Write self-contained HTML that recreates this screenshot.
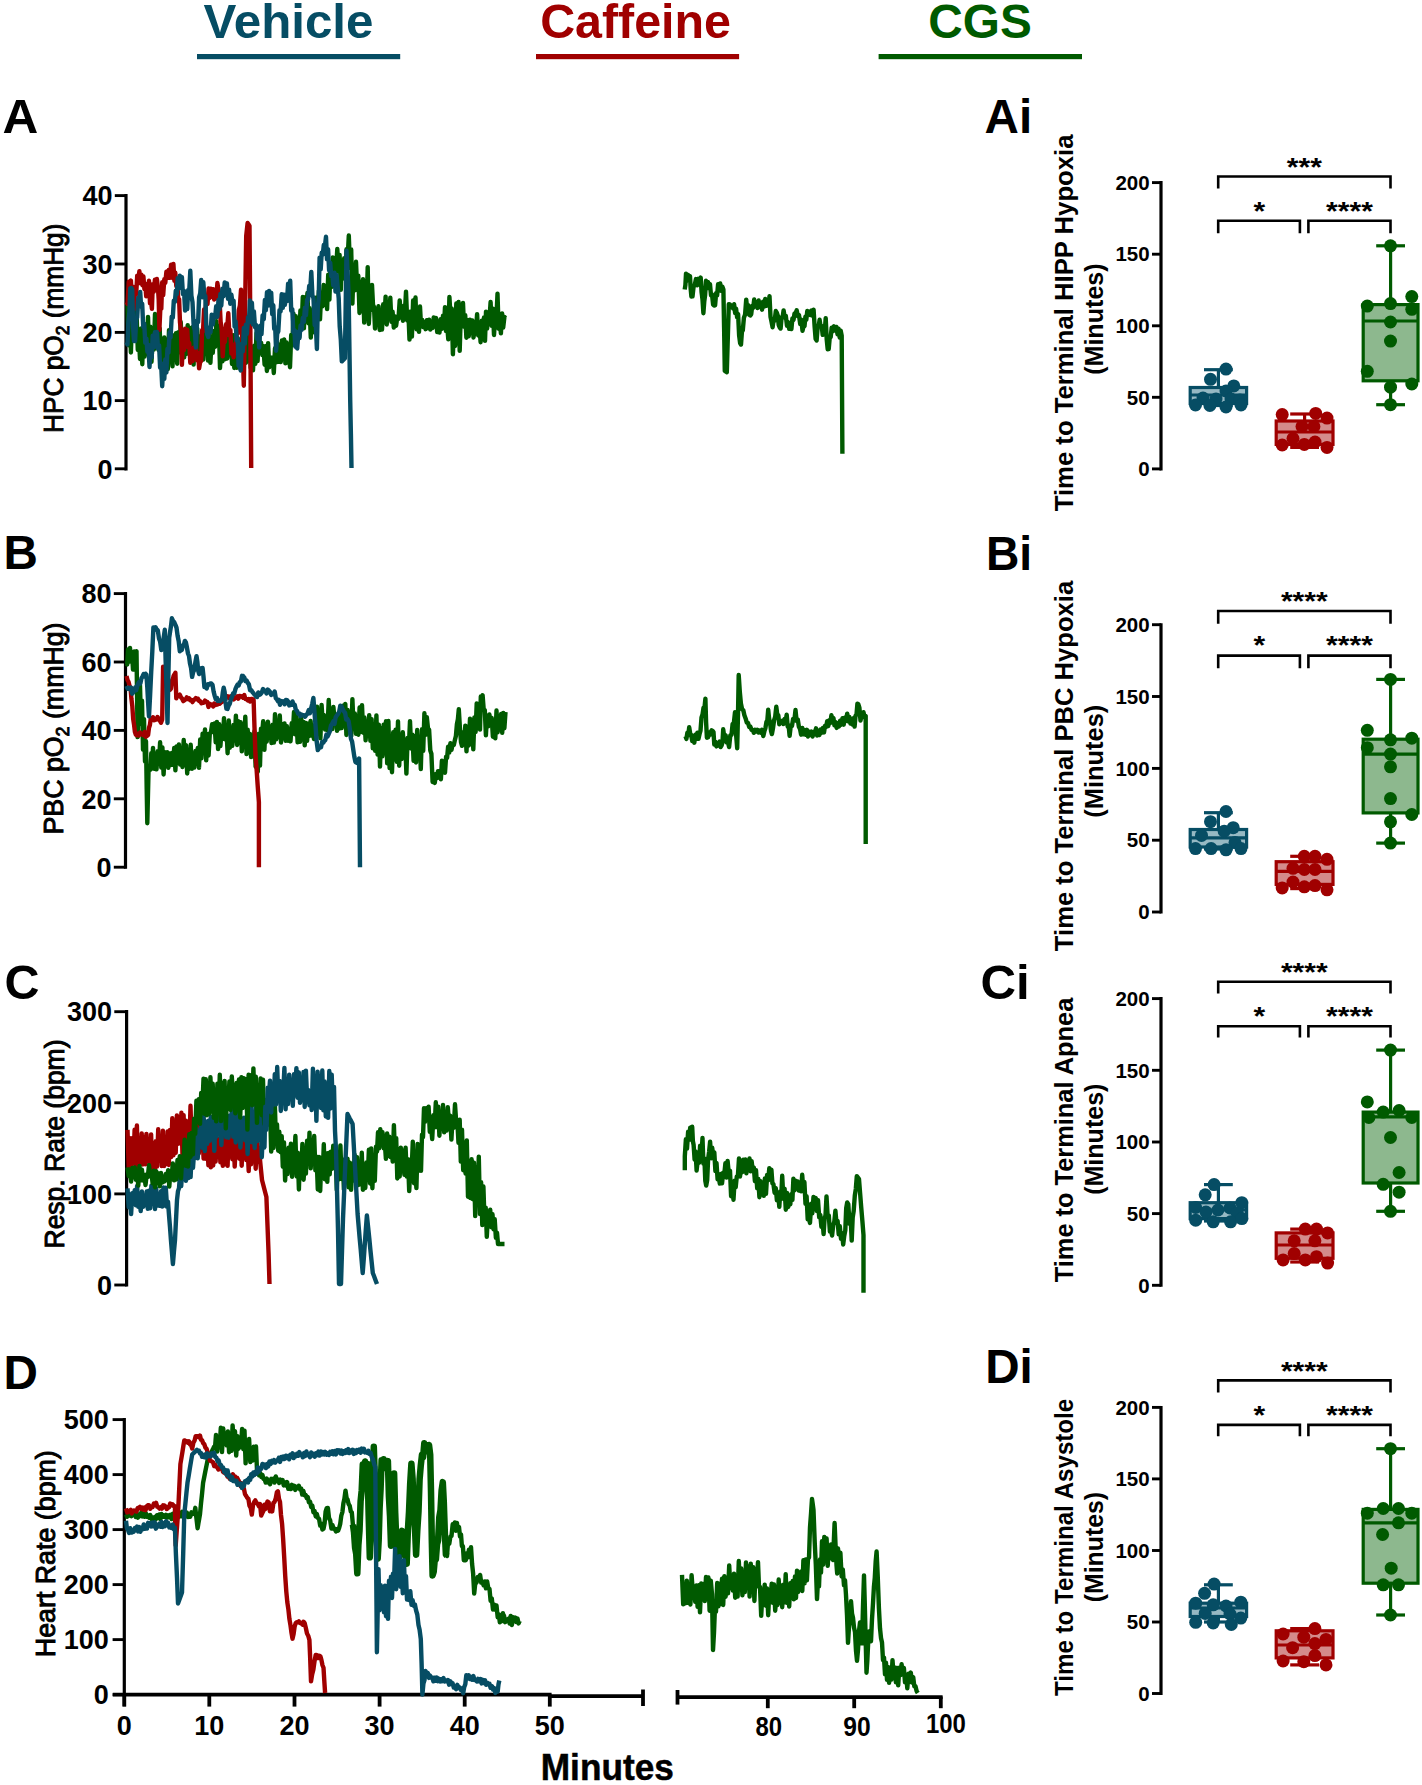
<!DOCTYPE html>
<html><head><meta charset="utf-8"><title>Figure</title>
<style>html,body{margin:0;padding:0;background:#fff;}svg{display:block;}</style></head>
<body><svg width="1422" height="1785" viewBox="0 0 1422 1785" font-family="&quot;Liberation Sans&quot;, sans-serif" fill="#000">
<rect width="1422" height="1785" fill="#fff"/>
<text x="203.6" y="37.6" font-size="48" font-weight="bold" fill="#064d64" textLength="169.79999999999998" lengthAdjust="spacingAndGlyphs">Vehicle</text>
<rect x="197" y="54" width="203.2" height="5.2" fill="#064d64"/>
<text x="540.2" y="37.6" font-size="48" font-weight="bold" fill="#a00000" textLength="190.79999999999995" lengthAdjust="spacingAndGlyphs">Caffeine</text>
<rect x="536" y="54" width="203.10000000000002" height="5.2" fill="#a00000"/>
<text x="928.2" y="37.6" font-size="48" font-weight="bold" fill="#005a00" textLength="103.59999999999991" lengthAdjust="spacingAndGlyphs">CGS</text>
<rect x="878.6" y="54" width="203.39999999999998" height="5.2" fill="#005a00"/>
<text x="2.6" y="133.2" font-size="48" font-weight="bold" fill="#000" textLength="35.8" lengthAdjust="spacingAndGlyphs">A</text>
<text x="3.6" y="569.4" font-size="48" font-weight="bold" fill="#000" textLength="34.4" lengthAdjust="spacingAndGlyphs">B</text>
<text x="4.6" y="999.0" font-size="48" font-weight="bold" fill="#000" textLength="35.0" lengthAdjust="spacingAndGlyphs">C</text>
<text x="3.6" y="1389.3" font-size="48" font-weight="bold" fill="#000" textLength="34.4" lengthAdjust="spacingAndGlyphs">D</text>
<text x="984.6" y="132.9" font-size="48" font-weight="bold" fill="#000" textLength="47.6" lengthAdjust="spacingAndGlyphs">Ai</text>
<text x="986.0" y="569.7" font-size="48" font-weight="bold" fill="#000" textLength="46.2" lengthAdjust="spacingAndGlyphs">Bi</text>
<text x="980.6" y="999.3" font-size="48" font-weight="bold" fill="#000" textLength="49.2" lengthAdjust="spacingAndGlyphs">Ci</text>
<text x="985.2" y="1382.9" font-size="48" font-weight="bold" fill="#000" textLength="47.6" lengthAdjust="spacingAndGlyphs">Di</text>
<line x1="126.0" y1="194.0" x2="126.0" y2="470.40000000000003" stroke="#000" stroke-width="3.2"/>
<line x1="114.8" y1="195.6" x2="126.0" y2="195.6" stroke="#000" stroke-width="2.8800000000000003"/>
<text x="112.5" y="205.3" font-size="27" font-weight="bold" text-anchor="end">40</text>
<line x1="114.8" y1="264.0" x2="126.0" y2="264.0" stroke="#000" stroke-width="2.8800000000000003"/>
<text x="112.5" y="273.7" font-size="27" font-weight="bold" text-anchor="end">30</text>
<line x1="114.8" y1="332.4" x2="126.0" y2="332.4" stroke="#000" stroke-width="2.8800000000000003"/>
<text x="112.5" y="342.1" font-size="27" font-weight="bold" text-anchor="end">20</text>
<line x1="114.8" y1="400.6" x2="126.0" y2="400.6" stroke="#000" stroke-width="2.8800000000000003"/>
<text x="112.5" y="410.3" font-size="27" font-weight="bold" text-anchor="end">10</text>
<line x1="114.8" y1="468.8" x2="126.0" y2="468.8" stroke="#000" stroke-width="2.8800000000000003"/>
<text x="112.5" y="478.5" font-size="27" font-weight="bold" text-anchor="end">0</text>
<line x1="125.5" y1="592.0" x2="125.5" y2="868.8000000000001" stroke="#000" stroke-width="3.2"/>
<line x1="113.8" y1="593.6" x2="125.5" y2="593.6" stroke="#000" stroke-width="2.8800000000000003"/>
<text x="111.5" y="603.3" font-size="27" font-weight="bold" text-anchor="end">80</text>
<line x1="113.8" y1="662.0" x2="125.5" y2="662.0" stroke="#000" stroke-width="2.8800000000000003"/>
<text x="111.5" y="671.7" font-size="27" font-weight="bold" text-anchor="end">60</text>
<line x1="113.8" y1="730.4" x2="125.5" y2="730.4" stroke="#000" stroke-width="2.8800000000000003"/>
<text x="111.5" y="740.1" font-size="27" font-weight="bold" text-anchor="end">40</text>
<line x1="113.8" y1="798.8" x2="125.5" y2="798.8" stroke="#000" stroke-width="2.8800000000000003"/>
<text x="111.5" y="808.5" font-size="27" font-weight="bold" text-anchor="end">20</text>
<line x1="113.8" y1="867.2" x2="125.5" y2="867.2" stroke="#000" stroke-width="2.8800000000000003"/>
<text x="111.5" y="876.9" font-size="27" font-weight="bold" text-anchor="end">0</text>
<line x1="126.6" y1="1010.1" x2="126.6" y2="1286.6" stroke="#000" stroke-width="3.2"/>
<line x1="114.3" y1="1011.7" x2="126.6" y2="1011.7" stroke="#000" stroke-width="2.8800000000000003"/>
<text x="112.0" y="1021.4" font-size="27" font-weight="bold" text-anchor="end">300</text>
<line x1="114.3" y1="1102.8" x2="126.6" y2="1102.8" stroke="#000" stroke-width="2.8800000000000003"/>
<text x="112.0" y="1112.5" font-size="27" font-weight="bold" text-anchor="end">200</text>
<line x1="114.3" y1="1193.9" x2="126.6" y2="1193.9" stroke="#000" stroke-width="2.8800000000000003"/>
<text x="112.0" y="1203.6" font-size="27" font-weight="bold" text-anchor="end">100</text>
<line x1="114.3" y1="1285.0" x2="126.6" y2="1285.0" stroke="#000" stroke-width="2.8800000000000003"/>
<text x="112.0" y="1294.7" font-size="27" font-weight="bold" text-anchor="end">0</text>
<line x1="124.3" y1="1418.0" x2="124.3" y2="1706.3" stroke="#000" stroke-width="3.2"/>
<line x1="112.6" y1="1419.6" x2="124.3" y2="1419.6" stroke="#000" stroke-width="2.8800000000000003"/>
<text x="108.8" y="1429.3" font-size="27" font-weight="bold" text-anchor="end">500</text>
<line x1="112.6" y1="1474.6" x2="124.3" y2="1474.6" stroke="#000" stroke-width="2.8800000000000003"/>
<text x="108.8" y="1484.3" font-size="27" font-weight="bold" text-anchor="end">400</text>
<line x1="112.6" y1="1529.6" x2="124.3" y2="1529.6" stroke="#000" stroke-width="2.8800000000000003"/>
<text x="108.8" y="1539.3" font-size="27" font-weight="bold" text-anchor="end">300</text>
<line x1="112.6" y1="1584.6" x2="124.3" y2="1584.6" stroke="#000" stroke-width="2.8800000000000003"/>
<text x="108.8" y="1594.3" font-size="27" font-weight="bold" text-anchor="end">200</text>
<line x1="112.6" y1="1639.6" x2="124.3" y2="1639.6" stroke="#000" stroke-width="2.8800000000000003"/>
<text x="108.8" y="1649.3" font-size="27" font-weight="bold" text-anchor="end">100</text>
<line x1="112.6" y1="1694.7" x2="124.3" y2="1694.7" stroke="#000" stroke-width="2.8800000000000003"/>
<text x="108.8" y="1704.4" font-size="27" font-weight="bold" text-anchor="end">0</text>
<text transform="translate(62.6,328.3) rotate(-90)" x="0" y="0" font-size="27" stroke="#000" stroke-width="0.95" text-anchor="middle" textLength="209.5" lengthAdjust="spacingAndGlyphs">HPC pO<tspan font-size="18" dy="6">2</tspan><tspan dy="-6"> (mmHg)</tspan></text>
<text transform="translate(63.4,728.5) rotate(-90)" x="0" y="0" font-size="27" stroke="#000" stroke-width="0.95" text-anchor="middle" textLength="212" lengthAdjust="spacingAndGlyphs">PBC pO<tspan font-size="18" dy="6">2</tspan><tspan dy="-6"> (mmHg)</tspan></text>
<text transform="translate(63.8,1144.0) rotate(-90)" x="0" y="0" font-size="27" stroke="#000" stroke-width="0.95" text-anchor="middle" textLength="209" lengthAdjust="spacingAndGlyphs">Resp. Rate (bpm)</text>
<text transform="translate(55.3,1553.7) rotate(-90)" x="0" y="0" font-size="27" stroke="#000" stroke-width="0.95" text-anchor="middle" textLength="207" lengthAdjust="spacingAndGlyphs">Heart Rate (bpm)</text>
<line x1="112.8" y1="1694.7" x2="551.6" y2="1694.7" stroke="#000" stroke-width="3.8"/>
<line x1="548" y1="1696.1000000000001" x2="643" y2="1696.1000000000001" stroke="#000" stroke-width="3.8"/>
<line x1="677.5" y1="1697.2" x2="942.6" y2="1697.2" stroke="#000" stroke-width="3.8"/>
<line x1="124.3" y1="1694.7" x2="124.3" y2="1706.6" stroke="#000" stroke-width="3.8"/>
<text x="124.3" y="1735.2" font-size="27" font-weight="bold" text-anchor="middle">0</text>
<line x1="209.3" y1="1694.7" x2="209.3" y2="1706.6" stroke="#000" stroke-width="3.8"/>
<text x="209.3" y="1735.2" font-size="27" font-weight="bold" text-anchor="middle">10</text>
<line x1="294.5" y1="1694.7" x2="294.5" y2="1706.6" stroke="#000" stroke-width="3.8"/>
<text x="294.5" y="1735.2" font-size="27" font-weight="bold" text-anchor="middle">20</text>
<line x1="379.6" y1="1694.7" x2="379.6" y2="1706.6" stroke="#000" stroke-width="3.8"/>
<text x="379.6" y="1735.2" font-size="27" font-weight="bold" text-anchor="middle">30</text>
<line x1="464.7" y1="1694.7" x2="464.7" y2="1706.6" stroke="#000" stroke-width="3.8"/>
<text x="464.7" y="1735.2" font-size="27" font-weight="bold" text-anchor="middle">40</text>
<line x1="549.8" y1="1694.7" x2="549.8" y2="1706.6" stroke="#000" stroke-width="3.8"/>
<text x="549.8" y="1735.2" font-size="27" font-weight="bold" text-anchor="middle">50</text>
<line x1="643" y1="1689.5" x2="643" y2="1706.0" stroke="#000" stroke-width="3.8"/>
<line x1="677.5" y1="1690.0" x2="677.5" y2="1704.6" stroke="#000" stroke-width="3.8"/>
<line x1="767.8" y1="1696.5" x2="767.8" y2="1708.2" stroke="#000" stroke-width="3.8"/>
<text x="755.4" y="1736.2" font-size="27" font-weight="bold" textLength="26.6" lengthAdjust="spacingAndGlyphs">80</text>
<line x1="854.2" y1="1696.5" x2="854.2" y2="1708.2" stroke="#000" stroke-width="3.8"/>
<text x="843.1999999999999" y="1735.5" font-size="27" font-weight="bold" textLength="27.4" lengthAdjust="spacingAndGlyphs">90</text>
<line x1="940.8" y1="1696.5" x2="940.8" y2="1708.2" stroke="#000" stroke-width="3.8"/>
<text x="925.9" y="1733.0" font-size="27" font-weight="bold" textLength="40.0" lengthAdjust="spacingAndGlyphs">100</text>
<text x="540.8" y="1780.0" font-size="36.5" font-weight="bold" stroke="#000" stroke-width="0.5" textLength="133.0" lengthAdjust="spacingAndGlyphs">Minutes</text>
<polyline points="127.5,302.9 128.6,345.3 129.8,321.1 130.9,352.5 132.1,316.2 133.2,330.2 134.3,302.9 135.5,334.8 136.6,314.4 137.8,350.0 138.9,337.3 140.0,359.0 141.2,328.4 142.3,364.3 143.4,327.4 144.6,356.6 145.7,341.8 146.9,354.0 148.0,316.9 149.2,355.9 150.3,326.6 151.5,361.9 152.7,335.7 153.8,349.6 155.0,314.0 156.2,344.1 157.3,321.4 158.5,350.0 159.7,328.4 160.8,363.8 162.0,339.7 163.2,371.6 164.3,337.4 165.5,368.0 166.7,345.3 167.8,369.1 169.0,330.1 170.2,361.4 171.3,344.2 172.5,366.4 173.7,335.5 174.8,353.8 176.0,333.1 177.2,363.7 178.3,332.2 179.5,352.3 180.7,321.9 181.8,342.1 183.0,337.5 184.2,357.4 185.3,341.7 186.5,353.9 187.7,325.2 188.8,347.3 190.0,328.2 191.2,352.3 192.4,327.1 193.6,364.6 194.8,326.2 196.0,352.1 197.2,328.4 198.4,353.0 199.6,336.5 200.8,358.3 202.0,340.0 203.2,359.6 204.4,321.4 205.6,342.5 206.8,336.4 208.0,360.6 209.2,331.7 210.4,362.8 211.6,339.5 212.8,352.9 214.0,330.9 215.2,346.7 216.4,321.2 217.6,340.9 218.8,326.0 220.0,368.1 221.2,348.6 222.4,361.4 223.6,339.1 224.8,359.3 226.0,329.3 227.2,358.5 228.4,333.3 229.6,351.7 230.8,335.8 232.0,364.0 233.2,335.1 234.3,368.0 235.5,342.2 236.7,367.9 237.8,338.2 239.0,362.5 240.2,340.8 241.3,368.9 242.5,338.8 243.7,366.8 244.8,338.7 246.0,362.7 247.2,332.3 248.3,347.4 249.5,343.1 250.7,367.8 251.8,349.2 253.0,370.3 254.2,345.7 255.3,363.9 256.5,333.0 257.6,361.1 258.8,332.2 259.9,348.6 261.1,342.7 262.3,355.1 263.4,346.2 264.6,364.7 265.7,346.1 266.9,371.0 268.1,343.2 269.2,367.3 270.4,357.5 271.5,365.5 272.7,357.5 273.8,373.0 275.0,348.3 276.2,362.4 277.3,342.9 278.5,361.8 279.6,352.2 280.8,362.0 281.9,340.4 283.1,348.4 284.2,339.5 285.4,363.4 286.5,342.5 287.7,362.5 288.8,349.3 290.0,367.2 291.2,335.0 292.3,344.8 293.5,313.7 294.7,335.6 295.8,316.3 297.0,343.0 298.1,323.9 299.3,337.1 300.4,310.5 301.6,327.2 302.8,296.9 303.9,328.4 305.1,297.3 306.2,314.3 307.4,293.0 308.5,323.3 309.6,308.3 310.8,337.6 311.9,311.4 313.1,332.3 314.2,304.4 315.4,319.8 316.6,297.5 317.7,311.9 318.9,290.7 320.0,319.4 321.2,293.0 322.4,306.4 323.6,285.0 324.8,304.9 326.0,286.0 327.1,309.1 328.2,274.8 329.4,299.6 330.5,266.5 331.6,287.0 332.8,257.5 333.9,285.9 335.0,265.1 336.2,268.8 337.3,248.9 338.5,271.5 339.6,254.9 340.8,289.8 341.9,260.6 343.1,272.5 344.2,258.2 345.4,279.3 346.5,249.3 347.7,257.5 348.8,235.5 350.0,268.2 351.2,249.5 352.4,303.6 353.6,268.3 354.8,290.4 356.0,261.8 357.2,289.5 358.3,275.8 359.5,313.0 360.7,282.2 361.8,308.4 363.0,279.3 364.2,322.6 365.3,305.8 366.5,310.2 367.7,267.1 368.8,324.0 370.0,301.3 371.0,310.0 372.0,284.9 373.0,304.8 374.0,307.0 375.0,328.5 376.2,309.4 377.3,316.3 378.5,306.2 379.7,330.0 380.9,312.4 382.0,329.6 383.2,304.3 384.4,318.5 385.6,296.6 386.7,324.5 387.9,304.7 389.1,318.5 390.3,297.7 391.4,321.8 392.6,311.8 393.8,327.5 395.0,316.5 396.1,325.8 397.3,317.4 398.5,318.8 399.7,300.4 400.8,314.8 402.0,308.7 403.0,320.7 404.0,305.7 405.0,310.4 406.0,291.6 407.2,320.5 408.4,313.3 409.5,339.6 410.7,311.5 411.9,336.6 413.1,300.5 414.3,326.2 415.5,297.5 416.6,329.4 417.8,312.8 419.0,331.9 420.0,306.5 421.0,325.3 422.2,319.9 423.3,327.1 424.5,322.1 425.6,329.2 426.8,320.2 427.9,328.1 429.1,319.7 430.3,329.6 431.4,325.0 432.6,327.9 433.7,317.4 434.9,321.1 436.1,318.1 437.2,332.1 438.4,321.7 439.5,332.6 440.7,319.2 441.8,328.9 443.0,315.6 444.0,326.2 445.0,307.2 446.0,331.1 447.1,324.5 448.3,339.4 449.4,297.0 450.6,316.5 451.7,308.4 452.9,354.3 454.0,325.6 455.1,346.0 456.3,303.5 457.4,319.1 458.6,302.0 459.7,350.9 460.9,310.8 462.0,321.6 463.0,303.0 464.0,326.7 465.2,315.1 466.4,337.7 467.6,320.2 468.8,336.2 469.9,319.8 471.1,332.3 472.3,320.4 473.5,337.5 474.7,328.6 475.9,331.7 477.1,314.2 478.2,335.5 479.4,325.1 480.6,342.2 481.8,320.7 483.0,333.0 484.0,317.4 485.0,340.8 486.0,311.6 487.1,328.5 488.3,313.6 489.4,320.2 490.6,302.0 491.7,325.9 492.9,308.6 494.0,335.0 495.2,316.9 496.3,321.0 497.5,293.6 498.6,328.8 499.8,320.8 500.9,333.3 502.1,313.4 503.2,327.5 504.4,316.9 505.5,318.0" fill="none" stroke="#005a00" stroke-width="4.4" stroke-linejoin="round" stroke-linecap="butt"/>
<polyline points="126.5,301.9 127.6,303.9 128.7,281.8 129.8,284.4 130.9,280.5 131.9,297.9 132.9,286.8 134.0,309.4 135.1,288.9 136.2,294.3 137.2,275.7 138.3,280.8 139.4,271.1 140.4,283.4 141.4,274.7 142.5,285.2 143.4,276.5 144.4,289.0 145.3,283.7 146.2,296.3 147.2,284.8 148.1,289.0 149.0,280.8 150.0,303.4 150.9,300.2 151.9,308.8 152.8,284.1 153.8,291.7 154.9,279.8 155.9,285.8 156.9,278.9 158.0,288.4 158.7,299.9 159.4,329.8 160.3,309.1 161.3,308.6 162.2,282.3 163.2,295.0 164.3,279.3 165.3,282.9 166.4,271.6 167.6,277.8 168.7,270.0 169.9,277.9 171.1,264.6 172.2,277.7 173.4,263.9 174.4,280.8 175.3,272.8 176.3,286.1 177.2,280.5 178.2,298.6 179.1,299.1 180.0,322.6 181.0,331.0 181.9,364.9 182.9,342.1 184.0,350.1 185.1,328.8 186.1,332.5 187.2,329.7 188.2,347.3 189.2,343.0 190.3,362.9 191.4,350.6 192.5,361.1 193.7,347.7 194.8,357.7 195.9,346.6 197.0,360.2 198.1,352.9 199.1,368.4 200.2,362.0 201.1,361.2 202.1,330.1 203.0,331.3 204.1,309.4 205.2,312.9 206.4,298.9 207.5,304.1 208.6,288.5 209.7,298.0 210.8,288.6 212.0,296.8 213.1,289.3 214.2,299.5 215.3,291.5 216.3,298.3 217.4,283.0 218.5,290.0 219.6,301.1 220.6,321.5 221.6,328.4 222.7,356.4 223.8,339.5 224.9,341.9 226.1,324.3 227.2,327.9 228.3,313.2 229.4,335.5 230.4,329.9 231.4,353.6 232.5,347.9 233.6,357.2 234.6,344.5 235.6,349.9 236.7,332.9 237.8,333.5 238.8,310.2 239.9,305.6 241.0,289.8 241.9,328.8 242.9,354.8 243.8,385.8 244.5,342.9 245.2,300.0 246.2,236.0 246.9,229.5 247.6,223.0 248.6,224.5 249.5,226.0 250.3,320.0 251.2,468.0" fill="none" stroke="#a00000" stroke-width="4.4" stroke-linejoin="round" stroke-linecap="butt"/>
<polyline points="126.5,342.2 127.5,344.5 128.4,321.7 129.4,311.8 130.3,288.4 131.3,288.0 132.2,289.2 133.1,327.0 134.0,341.1 135.1,341.1 136.2,318.5 137.2,317.4 138.3,297.6 139.2,306.7 140.2,291.9 141.1,306.4 142.2,303.8 143.2,326.9 144.2,323.5 145.3,342.9 146.4,338.7 147.4,351.8 148.4,344.7 149.5,367.0 150.6,350.1 151.7,357.4 152.7,335.6 153.8,347.4 154.9,332.3 155.9,346.2 156.9,331.9 158.0,348.7 159.1,345.3 160.1,367.7 161.1,363.2 162.2,386.2 163.2,366.7 164.3,378.9 165.3,359.5 166.4,372.5 167.4,349.0 168.5,352.7 169.6,332.4 170.6,337.5 171.7,316.6 172.8,317.6 173.8,300.6 174.9,301.9 175.8,290.6 176.8,294.1 177.7,278.2 178.8,288.2 179.8,275.8 180.8,287.9 181.9,277.1 182.9,294.0 184.0,290.9 185.1,310.6 186.1,300.3 187.2,309.1 188.2,289.9 189.2,291.4 190.3,270.8 191.4,295.5 192.5,302.1 193.7,326.2 194.8,330.3 195.9,347.6 197.0,320.7 198.1,322.1 199.1,297.3 200.2,293.3 201.2,280.0 202.3,297.4 203.3,282.2 204.4,296.8 205.3,295.8 206.3,326.6 207.2,334.2 208.3,337.1 209.4,327.6 210.6,332.2 211.7,314.7 212.8,324.6 213.9,314.9 215.1,317.3 216.2,306.1 217.4,316.7 218.5,299.9 219.4,309.1 220.4,293.9 221.3,305.6 222.4,288.8 223.5,296.3 224.7,282.4 225.8,292.2 226.9,283.4 228.0,298.8 229.1,289.8 230.3,303.8 231.4,294.7 232.5,302.8 233.6,300.6 234.6,326.6 235.6,321.4 236.7,340.5 237.7,338.7 238.6,365.6 239.6,366.8 240.7,370.4 241.7,343.9 242.8,351.3 243.8,328.0 244.9,343.6 245.9,324.7 246.9,333.8 248.0,317.1 248.9,322.3 249.9,300.5 250.8,312.9 251.9,302.8 252.9,324.5 253.9,311.4 255.0,327.2 256.1,325.0 257.1,338.8 258.1,329.5 259.2,347.5 260.3,325.6 261.5,334.0 262.6,315.4 263.8,319.1 264.9,300.0 265.9,310.2 267.0,292.2 268.1,305.5 269.1,291.0 270.2,300.9 271.2,292.6 272.2,314.2 273.3,305.3 274.2,329.0 275.2,327.3 276.1,350.7 277.2,333.7 278.3,331.4 279.5,310.1 280.6,311.3 281.7,294.3 282.8,307.9 283.8,294.7 284.9,304.7 285.9,294.7 287.0,301.2 288.1,283.7 289.1,291.8 290.2,280.8 291.2,310.7 292.3,309.3 293.3,332.1 294.4,330.2 295.3,346.7 296.3,331.7 297.2,348.5 298.3,333.1 299.4,338.2 300.6,325.4 301.7,329.8 302.8,317.9 303.9,321.9 304.9,307.7 306.0,315.0 307.1,299.8 308.1,299.3 309.2,285.9 310.2,290.6 311.3,271.9 312.4,295.4 313.5,298.3 314.7,325.1 315.8,324.7 316.9,349.0 317.8,307.3 318.7,298.2 319.6,257.6 320.7,269.3 321.7,252.8 322.8,254.6 323.8,245.0 324.9,246.3 326.0,236.8 327.0,259.4 328.1,249.3 329.1,270.4 330.2,262.7 331.2,276.1 332.3,273.6 333.3,285.3 334.4,272.6 335.5,291.5 336.5,274.9 337.6,286.2 338.7,298.3 339.7,326.3 340.8,339.6 341.8,361.4 342.8,360.3 343.9,359.3 344.9,358.2 345.7,304.4 346.5,250.6 347.6,272.2 348.6,293.8 349.4,346.9 350.2,400.0 350.9,434.0 351.5,468.0" fill="none" stroke="#064d64" stroke-width="4.4" stroke-linejoin="round" stroke-linecap="butt"/>
<polyline points="684.7,289.5 685.4,285.0 686.0,273.6 687.0,280.2 688.0,275.0 689.0,280.7 690.0,276.2 690.7,289.1 691.4,296.5 692.5,296.4 693.6,286.6 694.7,285.1 695.9,279.1 697.1,285.3 698.3,278.8 699.5,282.9 700.7,277.6 701.6,292.3 702.5,299.6 703.4,313.2 704.3,301.2 705.1,295.1 706.0,280.8 707.0,284.2 708.0,282.0 709.0,288.2 710.0,284.2 711.0,295.4 712.0,294.3 713.1,304.5 714.1,305.6 715.1,305.4 716.1,293.2 717.1,295.5 718.1,284.1 719.2,287.9 720.2,283.5 721.3,290.8 722.3,286.6 723.4,289.6 724.1,327.6 724.8,370.9 725.8,371.5 726.8,372.2 727.8,338.1 728.8,304.1 729.9,304.3 730.9,307.1 732.0,306.2 733.0,308.4 734.1,304.2 735.1,313.0 736.1,308.7 737.1,317.2 738.1,314.2 739.1,335.1 740.1,343.0 741.0,344.5 741.9,332.0 742.8,330.3 743.9,317.8 745.1,314.5 746.2,299.6 747.2,308.8 748.2,305.1 749.2,314.8 750.2,315.5 751.2,314.3 752.2,305.9 753.2,307.8 754.2,299.5 755.3,306.0 756.4,302.3 757.5,308.0 758.7,300.5 759.8,306.9 760.9,303.7 762.0,309.7 763.0,301.7 764.1,306.7 765.2,299.0 766.3,305.8 767.4,302.0 768.4,305.5 769.5,296.2 770.5,316.7 771.5,321.6 772.6,327.3 773.7,319.4 774.7,320.6 775.8,311.0 776.9,312.9 777.8,315.6 778.7,325.0 779.6,327.3 780.6,328.5 781.6,317.3 782.6,317.4 783.6,310.4 784.7,317.2 785.8,315.7 787.0,325.8 788.1,322.2 789.2,328.8 790.3,325.2 791.4,329.1 792.4,318.4 793.5,320.0 794.5,313.5 795.6,313.0 796.7,310.4 797.9,316.3 799.0,315.1 800.2,324.0 801.3,319.6 802.5,330.7 803.6,325.8 804.5,326.2 805.4,316.8 806.3,319.7 807.3,311.0 808.4,314.5 809.4,311.8 810.5,315.1 811.5,310.6 812.6,315.7 813.6,309.7 814.6,326.3 815.6,338.8 816.6,340.5 817.6,327.5 818.6,326.6 819.6,319.8 820.6,326.8 821.7,326.0 822.7,334.9 823.7,332.1 824.7,331.7 825.7,318.1 826.7,339.3 827.7,349.2 828.7,349.1 829.7,338.1 830.7,337.0 831.7,327.6 832.9,331.2 834.0,326.3 835.2,330.3 836.4,326.9 837.5,334.3 838.6,328.7 839.7,337.5 840.7,330.7 841.7,335.6 842.4,453.7" fill="none" stroke="#005a00" stroke-width="4.4" stroke-linejoin="round" stroke-linecap="butt"/>
<polyline points="126.5,663.8 127.2,664.5 128.0,649.5 129.0,661.5 130.0,648.0 131.0,661.7 132.0,652.9 133.0,669.5 134.2,651.4 135.3,663.9 136.5,651.1 137.6,737.1 138.3,711.0 139.0,708.6 140.0,685.3 141.0,724.4 142.0,700.8 143.0,749.7 144.0,719.1 145.0,761.4 146.0,741.2 146.7,789.1 147.3,823.3 148.5,772.0 149.5,766.4 150.5,769.6 151.3,753.2 152.2,762.6 153.0,747.9 154.2,768.9 155.4,760.1 156.5,769.4 157.7,751.3 158.9,763.8 160.1,742.3 161.3,767.6 162.4,747.4 163.6,774.5 164.8,752.2 166.0,765.3 167.2,752.2 168.3,767.9 169.5,753.4 170.7,765.0 171.9,752.9 173.1,764.8 174.2,748.0 175.4,770.4 176.6,746.4 177.8,758.4 178.9,744.4 180.1,764.5 181.3,753.6 182.5,767.0 183.7,740.0 184.8,754.5 186.0,745.1 187.2,773.5 188.4,750.0 189.6,768.7 190.7,744.8 191.9,768.7 193.1,756.7 194.3,767.6 195.5,751.0 196.6,762.2 197.8,747.9 199.0,767.9 200.2,739.4 201.4,758.4 202.6,733.7 203.8,746.6 205.0,729.4 206.2,760.4 207.4,734.1 208.6,755.5 209.8,733.3 210.9,732.6 212.1,724.3 213.3,731.8 214.5,723.5 215.7,742.4 216.9,721.9 218.1,749.1 219.2,724.3 220.4,746.1 221.6,730.0 222.8,738.8 224.0,718.1 225.2,739.5 226.4,728.0 227.6,753.2 228.8,720.5 229.9,747.7 231.1,730.7 232.3,745.9 233.5,724.9 234.7,740.6 235.9,715.6 237.1,745.0 238.2,721.1 239.4,740.8 240.6,722.1 241.8,751.3 243.0,724.1 244.2,743.4 245.3,716.7 246.5,754.1 247.7,729.8 248.8,752.5 250.0,734.0 251.1,757.1 252.2,741.6 253.3,756.4 254.4,731.3 255.6,766.7 256.7,745.7 257.8,771.6 258.9,733.6 260.0,765.6 261.0,728.6 262.0,734.8 263.2,721.2 264.4,749.8 265.6,724.8 266.7,741.6 267.9,721.6 269.1,731.5 270.3,726.7 271.5,743.0 272.7,724.6 273.9,742.6 275.0,714.1 276.2,739.3 277.4,724.5 278.6,737.0 279.8,715.5 281.0,742.5 282.2,724.2 283.3,735.7 284.5,723.4 285.7,740.9 286.9,726.3 288.1,740.7 289.3,734.2 290.5,741.3 291.7,723.3 292.8,733.5 294.0,711.9 295.2,734.4 296.4,716.1 297.6,742.4 298.8,723.1 300.0,741.8 301.1,715.8 302.3,739.4 303.5,721.9 304.7,745.4 305.9,722.9 307.1,740.9 308.3,723.6 309.4,735.8 310.6,721.0 311.8,735.6 313.0,733.6 314.0,739.0 315.0,724.9 316.0,722.9 317.0,706.6 318.0,727.8 319.2,720.6 320.4,738.3 321.6,704.9 322.7,723.2 323.9,715.0 325.1,729.6 326.3,720.6 327.5,730.3 328.7,700.0 329.9,727.1 331.0,721.2 332.2,729.1 333.4,706.9 334.6,720.9 335.8,714.3 337.0,730.8 338.1,717.0 339.3,728.6 340.5,709.0 341.7,728.1 342.9,705.8 344.1,715.1 345.3,703.9 346.4,735.0 347.6,710.0 348.8,724.1 350.0,719.3 351.2,736.3 352.4,699.1 353.6,727.6 354.8,713.5 356.0,733.8 357.2,716.7 358.4,734.7 359.6,707.5 360.8,731.7 362.0,705.2 363.2,732.7 364.4,717.5 365.6,740.4 366.8,721.8 368.0,736.0 369.2,715.1 370.4,740.9 371.6,719.1 372.8,748.4 374.0,726.1 375.2,750.8 376.4,715.4 377.6,754.6 378.8,724.6 380.0,766.6 381.2,728.2 382.4,756.4 383.6,724.8 384.8,753.3 386.0,721.1 387.2,763.4 388.4,721.0 389.6,768.1 390.8,747.6 392.0,772.2 393.2,732.2 394.4,744.0 395.6,729.7 396.8,761.7 398.0,721.4 399.2,765.7 400.4,734.8 401.6,759.1 402.8,732.2 404.0,749.2 405.2,741.9 406.4,773.6 407.6,737.9 408.8,748.2 410.0,721.1 411.2,748.6 412.4,734.7 413.6,760.8 414.8,736.1 416.0,762.5 417.2,730.0 418.4,757.8 419.6,739.0 420.8,769.1 422.0,729.2 423.2,750.9 424.4,713.3 425.6,734.8 426.8,717.1 428.0,728.6 429.1,729.6 430.3,750.5 431.4,753.8 432.6,782.0 433.7,781.4 434.8,782.8 435.9,773.9 437.0,778.2 438.0,771.1 438.9,776.9 439.9,771.3 440.9,779.2 441.9,760.6 442.9,769.2 444.0,761.1 445.0,772.7 446.1,756.7 447.1,757.8 448.1,746.7 449.2,752.7 450.4,743.3 451.5,749.8 452.7,743.9 453.8,745.0 455.0,739.6 455.9,736.0 456.9,724.2 457.9,719.3 458.8,709.1 459.9,727.6 461.0,742.2 462.0,745.8 463.0,732.1 464.2,743.7 465.3,725.7 466.5,751.3 467.7,726.4 468.8,745.5 470.0,718.7 471.1,732.1 472.2,720.1 473.3,749.3 474.4,717.4 475.6,732.0 476.7,703.4 477.8,728.3 478.9,717.1 480.0,729.6 480.8,696.5 481.5,697.9 482.6,695.2 483.7,709.5 484.8,710.2 485.9,735.4 487.0,715.4 488.2,726.4 489.4,714.5 490.5,722.9 491.7,717.8 492.9,736.7 494.1,720.7 495.3,738.3 496.5,710.5 497.6,732.2 498.8,719.0 500.0,728.6 501.1,713.9 502.2,732.9 503.3,712.9 504.4,728.2 505.5,712.0" fill="none" stroke="#005a00" stroke-width="4.4" stroke-linejoin="round" stroke-linecap="butt"/>
<polyline points="126.5,676.0 127.5,680.0 128.5,681.8 129.5,685.8 130.5,687.4 131.4,698.6 132.3,705.9 133.2,719.2 134.1,725.0 134.9,731.9 135.8,734.7 136.9,735.4 137.9,733.9 139.0,735.3 140.0,732.5 141.1,734.3 142.3,734.1 143.4,735.2 144.6,731.9 145.8,736.8 146.9,735.9 148.1,735.0 149.0,727.7 149.9,725.0 150.8,718.3 151.9,719.2 153.0,717.2 154.1,720.3 155.2,719.6 156.4,719.5 157.5,717.0 158.7,719.0 159.9,720.7 161.0,722.8 162.2,719.5 163.1,666.8 164.0,668.0 164.8,670.6 165.7,670.6 166.8,676.3 167.9,678.2 169.0,684.9 170.1,689.9 171.0,688.5 171.8,682.5 172.7,679.8 173.6,675.9 174.5,674.5 175.4,672.8 176.3,698.3 177.5,695.7 178.6,695.9 179.8,694.7 181.0,697.4 182.1,698.5 183.3,701.1 184.5,700.2 185.6,699.5 186.8,697.4 188.0,699.0 189.1,698.2 190.3,700.3 191.4,699.9 192.5,702.1 193.6,699.9 194.7,699.4 195.8,698.0 196.9,699.3 198.0,698.7 199.1,701.0 200.3,701.2 201.4,703.3 202.6,702.7 203.8,702.7 205.0,700.6 206.1,701.8 207.3,702.0 208.5,706.9 209.7,703.7 210.8,704.9 212.0,704.8 213.2,706.5 214.3,703.6 215.4,705.0 216.6,704.3 217.7,704.5 218.8,702.6 219.9,703.6 221.0,701.6 222.1,702.0 223.3,699.1 224.4,699.1 225.5,697.1 226.7,697.6 227.8,696.4 229.0,697.9 230.2,696.5 231.4,697.2 232.5,695.5 233.7,699.4 234.9,698.3 236.1,697.5 237.2,696.4 238.4,698.6 239.6,696.0 240.8,696.2 241.9,696.4 243.1,697.7 244.3,695.1 245.4,699.0 246.6,698.9 247.8,700.4 248.9,699.0 250.1,701.5 251.3,698.9 252.4,698.9 253.6,699.8 254.5,727.6 255.4,753.0 256.6,769.4 257.7,785.8 258.9,802.2 258.9,867.2" fill="none" stroke="#a00000" stroke-width="4.4" stroke-linejoin="round" stroke-linecap="butt"/>
<polyline points="126.5,686.0 127.6,688.8 128.7,688.1 129.8,689.2 131.0,687.6 132.1,693.7 133.2,692.5 134.2,690.1 135.2,687.6 136.2,690.3 137.3,685.9 138.3,683.3 139.3,681.9 140.4,683.4 141.5,678.1 142.6,676.3 143.7,674.0 144.6,676.4 145.5,673.7 146.4,674.7 147.3,687.4 148.1,702.5 149.0,716.4 150.1,695.5 151.2,672.1 152.3,651.6 153.4,627.4 154.5,629.9 155.6,627.3 156.7,629.4 157.8,630.2 159.0,638.5 160.1,641.5 161.3,650.0 162.5,644.3 163.6,638.4 164.8,629.8 165.7,662.4 166.6,690.5 167.5,723.0 168.3,679.5 169.2,637.8 170.1,631.6 171.0,626.2 171.9,618.3 173.1,621.2 174.2,622.2 175.4,624.8 176.5,627.6 177.6,635.7 178.7,641.2 179.8,651.3 180.8,650.2 181.8,650.0 182.9,645.4 183.9,644.7 184.9,640.9 185.9,642.5 186.9,647.3 188.0,653.5 189.0,656.0 190.0,663.6 191.1,668.2 192.1,676.9 193.2,672.0 194.3,669.7 195.4,662.1 196.5,656.2 197.4,662.2 198.2,670.6 199.1,674.0 200.3,670.3 201.4,668.1 202.6,668.0 203.5,676.4 204.4,687.1 205.6,687.0 206.7,688.5 207.9,684.2 209.1,684.6 210.2,683.5 211.4,683.5 212.5,684.9 213.6,691.5 214.7,695.9 215.8,699.2 216.9,697.7 217.9,701.0 219.0,700.5 220.0,701.2 221.1,700.0 222.0,698.9 222.8,692.4 223.7,687.7 224.6,691.7 225.5,701.8 226.4,708.6 227.5,708.9 228.7,705.5 229.8,703.8 230.9,699.3 232.0,696.9 233.2,693.2 234.3,693.4 235.4,689.2 236.5,686.6 237.6,684.6 238.7,685.4 239.8,682.0 240.9,681.7 242.0,675.8 243.1,676.0 244.3,677.5 245.4,681.0 246.6,680.5 247.8,682.9 248.9,684.4 250.1,690.2 251.3,690.1 252.4,692.0 253.6,693.4 254.8,694.7 256.0,696.6 257.1,697.0 258.3,692.4 259.5,694.8 260.7,694.1 261.8,692.5 263.0,689.1 264.2,690.8 265.4,690.6 266.5,693.5 267.7,689.6 268.9,690.5 270.0,691.9 271.2,695.0 272.4,693.9 273.5,694.2 274.7,691.5 275.8,698.2 276.8,699.2 277.9,701.2 278.9,699.9 280.0,704.8 281.2,701.1 282.3,701.6 283.5,701.5 284.7,704.3 285.8,699.9 287.0,700.1 288.1,701.6 289.2,705.4 290.3,705.1 291.4,704.9 292.5,701.4 293.6,704.8 294.7,704.8 295.8,709.7 297.0,710.8 298.1,713.7 299.3,713.4 300.5,716.1 301.6,714.5 302.8,715.3 304.0,715.3 305.2,716.7 306.4,714.7 307.5,713.8 308.7,710.1 309.9,713.3 311.1,708.5 312.2,704.0 313.4,698.0 314.5,712.5 315.6,726.7 316.7,741.9 317.8,750.1 318.9,748.4 320.0,747.0 321.0,747.2 322.1,742.0 323.2,742.8 324.3,740.9 325.3,740.2 326.4,734.6 327.5,736.5 328.7,734.0 329.8,731.3 331.0,725.5 332.2,723.7 333.3,721.3 334.5,723.9 335.7,717.2 336.8,715.6 338.0,713.9 339.2,711.7 340.3,705.7 341.5,706.2 342.7,709.2 343.9,711.4 345.1,712.9 346.2,719.5 347.4,719.0 348.6,721.1 349.8,728.8 350.9,738.6 352.1,741.6 353.2,749.1 354.3,756.5 355.4,761.9 356.5,762.7 357.4,763.2 358.2,759.9 359.1,758.6 360.0,867.2" fill="none" stroke="#064d64" stroke-width="4.4" stroke-linejoin="round" stroke-linecap="butt"/>
<polyline points="685.5,736.3 686.4,738.9 687.4,732.6 688.3,735.1 689.2,727.3 690.2,733.6 691.2,734.8 692.2,741.0 693.2,737.9 694.3,742.7 695.3,734.8 696.4,738.8 697.4,732.6 698.5,738.9 699.5,734.3 700.5,730.6 701.5,717.4 702.5,714.5 703.5,707.7 704.4,708.4 705.4,698.6 706.1,722.2 706.9,737.7 708.1,737.2 709.3,732.6 710.4,734.6 711.6,730.3 712.8,731.1 713.5,732.0 714.3,744.6 715.4,741.7 716.4,746.4 717.5,744.0 718.5,745.4 719.6,741.6 720.6,747.0 721.7,745.3 722.5,742.2 723.2,729.3 724.4,737.7 725.6,735.2 726.7,742.3 727.9,742.0 729.1,747.0 730.3,735.4 731.5,734.9 732.6,724.0 733.8,723.4 735.0,712.3 736.1,734.7 737.2,748.3 738.0,714.2 738.7,675.0 739.8,691.6 740.9,703.4 742.1,709.3 743.3,710.2 744.4,715.2 745.6,718.4 746.8,722.6 748.0,722.8 749.2,726.9 750.3,726.5 751.5,729.8 752.7,730.1 753.9,732.8 755.1,729.7 756.2,731.5 757.4,729.8 758.6,732.5 759.8,730.5 761.0,732.7 762.1,729.8 763.3,736.1 764.5,730.8 765.4,728.2 766.4,722.0 767.3,720.9 768.2,709.7 769.1,718.5 770.0,722.3 771.0,730.8 771.9,734.1 773.0,728.1 774.1,720.1 775.2,716.8 776.3,706.7 777.3,715.1 778.3,715.2 779.3,724.3 780.4,721.2 781.4,723.0 782.5,720.9 783.5,724.0 784.6,718.9 785.6,721.0 786.7,714.6 787.7,726.6 788.6,725.4 789.6,735.9 790.8,725.5 792.0,725.9 793.1,718.9 794.3,720.7 795.5,709.9 796.6,720.8 797.8,719.6 798.9,726.8 800.0,728.9 801.1,734.7 802.3,727.9 803.4,734.4 804.6,730.2 805.7,734.8 806.9,729.8 808.0,736.5 809.2,731.7 810.3,735.1 811.4,731.6 812.6,736.6 813.7,732.1 814.9,733.9 816.0,728.3 817.1,735.5 818.3,730.7 819.4,735.1 820.5,729.6 821.7,732.7 822.8,728.0 824.0,732.4 825.1,725.6 826.2,726.8 827.2,721.1 828.3,726.0 829.3,720.2 830.4,723.0 831.4,715.2 832.5,719.4 833.5,718.2 834.4,725.3 835.4,722.2 836.6,727.9 837.8,723.3 838.9,726.5 840.1,720.8 841.3,724.7 842.5,718.2 843.7,724.7 844.8,717.8 846.0,720.7 847.2,713.6 848.3,721.4 849.3,716.8 850.4,723.5 851.4,718.9 852.5,724.6 853.5,718.3 854.6,726.6 855.5,715.9 856.5,714.6 857.4,703.7 858.3,704.2 859.4,707.7 860.5,720.6 861.5,715.3 862.5,717.0 863.5,712.2 864.6,716.9 865.7,716.1 865.7,843.9" fill="none" stroke="#005a00" stroke-width="4.4" stroke-linejoin="round" stroke-linecap="butt"/>
<polyline points="127.5,1129.9 128.7,1167.4 129.9,1138.3 131.0,1167.5 132.2,1138.2 133.4,1163.5 134.6,1129.8 135.8,1166.5 136.9,1125.5 138.1,1172.7 139.3,1139.9 140.5,1164.2 141.7,1133.4 142.8,1164.5 144.0,1138.0 145.2,1164.4 146.4,1133.9 147.6,1156.9 148.8,1139.7 149.9,1168.2 151.1,1134.4 152.3,1176.5 153.5,1143.6 154.7,1174.8 155.8,1141.1 157.0,1166.6 158.2,1129.3 159.4,1160.3 160.6,1136.5 161.7,1166.1 162.9,1130.8 164.1,1166.1 165.3,1146.8 166.5,1164.0 167.6,1131.4 168.8,1165.0 170.0,1130.0 171.1,1157.1 172.3,1118.1 173.4,1155.4 174.6,1130.4 175.7,1152.9 176.9,1115.4 178.0,1143.8 179.1,1119.8 180.2,1143.4 181.4,1112.8 182.5,1156.0 183.6,1115.1 184.8,1152.2 185.9,1120.6 187.0,1144.6 188.2,1130.1 189.4,1145.1 190.5,1105.7 191.7,1146.8 192.9,1118.9 194.1,1147.1 195.3,1135.4 196.5,1155.1 197.6,1122.7 198.8,1153.5 200.0,1127.6 201.2,1148.8 202.4,1134.7 203.6,1158.6 204.8,1126.8 206.0,1158.8 207.2,1139.9 208.4,1165.4 209.6,1141.9 210.8,1167.4 212.0,1142.3 213.2,1165.5 214.4,1129.7 215.6,1161.6 216.8,1137.9 218.0,1155.0 219.2,1139.2 220.4,1162.3 221.6,1142.8 222.8,1165.8 224.0,1134.9 225.2,1164.3 226.4,1134.0 227.6,1165.9 228.8,1126.3 230.0,1153.7 231.2,1142.8 232.3,1159.2 233.5,1130.9 234.7,1166.6 235.8,1143.3 237.0,1153.4 238.2,1134.7 239.3,1158.7 240.5,1126.1 241.7,1165.7 242.8,1131.8 244.0,1144.9 245.2,1134.0 246.3,1160.1 247.5,1143.7 248.7,1171.1 249.8,1136.4 251.0,1164.3 252.2,1131.3 253.3,1154.9 254.5,1141.2 255.7,1168.7 256.8,1135.6 258.0,1151.2 259.0,1147.7 260.0,1160.0 261.0,1170.0 262.0,1180.0 263.1,1184.2 264.2,1188.5 265.3,1192.8 266.4,1197.0 267.5,1225.5 268.6,1254.0 269.5,1284.0" fill="none" stroke="#a00000" stroke-width="4.4" stroke-linejoin="round" stroke-linecap="butt"/>
<polyline points="127.5,1188.4 128.7,1207.2 129.9,1194.5 131.1,1214.1 132.3,1193.3 133.5,1203.1 134.7,1190.3 135.9,1205.4 137.1,1185.9 138.3,1206.8 139.5,1199.9 140.7,1211.0 141.9,1191.4 143.1,1206.7 144.3,1196.6 145.5,1205.2 146.7,1191.4 147.8,1208.9 149.0,1190.7 150.2,1208.2 151.4,1185.6 152.6,1200.3 153.8,1191.0 155.0,1209.1 156.2,1188.5 157.4,1205.6 158.6,1195.8 159.8,1205.9 161.0,1191.2 162.2,1206.6 163.4,1187.5 164.6,1205.5 165.8,1187.6 167.0,1206.8 168.0,1201.6 169.0,1215.0 170.0,1227.2 170.9,1239.5 171.9,1251.8 172.9,1264.0 173.9,1252.0 175.0,1240.0 176.0,1220.0 177.0,1200.0 178.0,1191.1 179.0,1188.1 180.0,1174.7 181.2,1186.1 182.4,1167.5 183.5,1175.6 184.7,1155.6 185.9,1180.9 187.1,1166.2 188.3,1178.1 189.5,1162.2 190.6,1177.1 191.8,1150.7 193.0,1167.9 194.2,1150.7 195.4,1155.1 196.5,1128.6 197.7,1158.4 198.9,1136.2 200.1,1146.5 201.3,1122.9 202.5,1147.9 203.6,1114.0 204.8,1151.1 206.0,1121.6 207.2,1143.8 208.4,1120.8 209.6,1140.8 210.8,1116.7 211.9,1137.4 213.1,1119.0 214.3,1150.9 215.5,1118.9 216.7,1136.5 217.9,1096.0 219.1,1133.0 220.2,1108.4 221.4,1145.0 222.6,1113.1 223.8,1124.8 225.0,1104.1 226.2,1137.3 227.4,1117.9 228.6,1137.7 229.8,1115.4 230.9,1130.1 232.1,1102.8 233.3,1136.8 234.5,1108.8 235.7,1142.5 236.9,1109.3 238.1,1130.3 239.2,1108.6 240.4,1147.5 241.6,1126.2 242.8,1132.9 244.0,1117.7 245.2,1140.3 246.4,1124.4 247.6,1154.0 248.8,1118.6 249.9,1141.7 251.1,1105.9 252.3,1142.4 253.5,1114.6 254.7,1148.0 255.9,1100.4 257.1,1141.3 258.2,1104.5 259.4,1137.3 260.6,1117.2 261.8,1157.2 263.0,1129.0 264.2,1147.6 265.3,1106.7" fill="none" stroke="#064d64" stroke-width="4.4" stroke-linejoin="round" stroke-linecap="butt"/>
<polyline points="127.5,1167.4 128.7,1176.0 129.9,1171.6 131.1,1181.6 132.3,1167.9 133.5,1176.5 134.7,1167.5 135.9,1179.8 137.1,1174.2 138.3,1185.5 139.5,1166.0 140.7,1180.2 141.9,1169.7 143.1,1180.6 144.3,1174.8 145.5,1185.0 146.7,1174.5 147.8,1177.0 149.0,1165.3 150.2,1176.2 151.4,1172.0 152.6,1183.2 153.8,1170.6 155.0,1187.4 156.2,1171.2 157.4,1178.6 158.6,1173.4 159.8,1186.4 161.0,1172.9 162.2,1182.5 163.4,1177.4 164.6,1181.4 165.8,1174.0 167.0,1178.3 168.2,1170.1 169.3,1186.5 170.5,1170.9 171.7,1175.9 172.8,1163.5 174.0,1180.4 175.2,1175.2 176.3,1179.4 177.5,1160.0 178.7,1167.4 179.8,1156.3 181.0,1178.3 182.2,1156.9 183.4,1165.5 184.6,1139.6 185.8,1165.7 186.9,1148.0 188.1,1166.5 189.3,1134.1 190.5,1156.9 191.7,1132.9 192.9,1154.4 194.1,1118.8 195.2,1133.9 196.4,1100.8 197.6,1121.5 198.8,1099.2 200.0,1123.9 201.2,1092.9 202.3,1108.7 203.5,1078.6 204.6,1113.9 205.8,1079.3 206.9,1115.4 208.1,1097.1 209.2,1113.7 210.4,1077.2 211.5,1102.5 212.7,1083.7 213.8,1117.9 215.0,1089.8 216.2,1121.4 217.4,1083.6 218.6,1111.4 219.8,1074.7 221.0,1121.1 222.2,1083.3 223.4,1114.9 224.6,1080.9 225.8,1128.4 227.0,1092.6 228.2,1104.8 229.4,1081.4 230.6,1110.0 231.8,1076.5 233.0,1097.0 234.2,1090.9 235.4,1113.4 236.6,1083.0 237.8,1110.3 239.0,1079.4 240.2,1117.6 241.4,1077.3 242.6,1108.1 243.8,1078.1 245.0,1092.5 246.2,1079.1 247.4,1129.6 248.6,1074.8 249.8,1097.5 251.0,1075.2 252.2,1105.3 253.4,1068.4 254.6,1103.3 255.8,1076.7 257.0,1122.9 258.2,1087.9 259.4,1107.0 260.6,1078.4 261.8,1115.2 263.0,1079.8 264.2,1123.9 265.3,1107.1 266.5,1125.2 267.7,1099.1 268.8,1122.0 270.0,1107.7 271.2,1151.6 272.3,1124.4 273.5,1148.0 274.7,1099.3 275.8,1135.8 277.0,1124.4 278.2,1150.7 279.3,1131.8 280.5,1152.2 281.7,1136.2 282.8,1166.7 284.0,1142.5 285.1,1180.5 286.3,1159.6 287.4,1174.1 288.6,1147.7 289.7,1169.9 290.9,1143.8 292.0,1176.8 293.1,1150.5 294.3,1159.7 295.4,1136.0 296.6,1176.5 297.7,1152.6 298.9,1189.5 300.0,1155.8 301.2,1173.6 302.4,1143.9 303.6,1179.7 304.8,1158.2 305.9,1173.6 307.1,1140.7 308.3,1163.4 309.5,1132.7 310.7,1168.4 311.9,1143.3 313.1,1163.2 314.2,1136.0 315.4,1170.3 316.6,1156.8 317.8,1189.5 319.0,1156.9 320.2,1191.0 321.4,1157.6 322.6,1177.5 323.8,1144.3 324.9,1179.4 326.1,1153.3 327.3,1181.9 328.5,1153.0 329.7,1174.4 330.9,1151.6 332.1,1168.7 333.2,1145.8 334.4,1164.6 335.6,1154.1 336.8,1190.2 338.0,1160.7 339.2,1179.2 340.4,1145.4 341.6,1179.1 342.8,1159.5 343.9,1189.7 345.1,1161.0 346.3,1166.8 347.5,1158.7 348.7,1187.4 349.9,1162.7 351.1,1189.8 352.2,1167.2 353.4,1180.6 354.6,1154.6 355.8,1175.1 357.0,1157.2 358.2,1185.1 359.4,1163.6 360.6,1184.2 361.8,1152.8 362.9,1189.8 364.1,1171.5 365.3,1188.0 366.5,1162.4 367.7,1177.6 368.9,1149.6 370.1,1183.5 371.2,1148.4 372.4,1188.2 373.6,1156.7 374.8,1180.9 376.0,1146.7 377.0,1151.7 378.0,1132.3 379.1,1148.3 380.3,1129.2 381.4,1143.5 382.5,1132.3 383.7,1148.4 384.8,1142.5 385.9,1158.8 387.1,1133.4 388.2,1155.8 389.3,1136.6 390.5,1157.1 391.6,1146.1 392.7,1161.6 393.9,1125.1 395.0,1154.6 396.2,1138.1 397.3,1178.5 398.5,1155.7 399.7,1176.5 400.8,1147.6 402.0,1171.3 403.2,1151.0 404.4,1174.9 405.6,1147.7 406.8,1176.6 408.0,1159.2 409.2,1191.1 410.4,1166.0 411.6,1171.0 412.8,1141.7 414.0,1183.3 415.2,1168.5 416.4,1188.1 417.6,1143.9 418.8,1170.7 420.0,1147.5 421.0,1170.9 422.0,1134.6 423.0,1137.2 424.0,1108.1 425.0,1121.9 426.2,1108.3 427.4,1119.3 428.6,1106.7 429.8,1131.8 431.0,1125.8 432.2,1139.1 433.4,1115.3 434.6,1127.4 435.8,1102.3 437.0,1127.1 438.2,1106.7 439.4,1135.7 440.6,1112.1 441.8,1128.9 443.0,1104.9 444.2,1132.4 445.4,1116.3 446.6,1130.6 447.8,1107.1 449.0,1122.8 450.2,1115.7 451.4,1139.6 452.6,1117.7 453.8,1127.7 455.0,1104.3 456.2,1121.9 457.3,1120.9 458.5,1142.8 459.7,1119.8 460.8,1161.6 462.0,1129.7 463.2,1170.2 464.4,1142.7 465.6,1173.6 466.8,1140.4 468.0,1196.8 469.2,1166.0 470.4,1198.1 471.6,1159.2 472.8,1199.3 474.0,1162.7 475.2,1216.1 476.4,1167.1 477.6,1197.5 478.8,1156.6 480.0,1214.1 481.1,1182.1 482.3,1225.1 483.4,1186.5 484.5,1219.7 485.7,1207.6 486.8,1236.9 487.9,1216.5 489.1,1219.6 490.2,1209.7 491.3,1227.2 492.5,1214.3 493.6,1229.3 494.7,1219.1 495.9,1237.8 497.0,1232.6 498.0,1244.0 499.1,1244.0 500.2,1244.0 501.2,1244.0 502.3,1244.0 503.4,1244.0 504.5,1244.0" fill="none" stroke="#005a00" stroke-width="4.4" stroke-linejoin="round" stroke-linecap="butt"/>
<polyline points="264.2,1147.6 265.3,1106.7 266.5,1129.7 267.7,1087.7 268.8,1097.0 270.0,1080.7 271.2,1112.5 272.4,1083.7 273.6,1104.6 274.8,1074.1 276.0,1104.4 277.2,1067.0 278.4,1100.3 279.6,1081.0 280.8,1111.0 282.0,1083.9 283.2,1093.0 284.4,1067.9 285.6,1109.3 286.8,1081.5 288.0,1104.1 289.2,1074.6 290.4,1092.3 291.6,1082.2 292.8,1105.8 294.0,1074.2 295.2,1087.5 296.4,1068.1 297.6,1097.7 298.8,1072.4 300.0,1102.9 301.2,1085.9 302.3,1100.0 303.5,1072.0 304.7,1107.0 305.9,1070.7 307.0,1095.9 308.2,1089.8 309.4,1105.4 310.6,1092.8 311.7,1110.0 312.9,1068.7 314.1,1100.5 315.2,1076.4 316.4,1120.9 317.6,1071.6 318.8,1094.3 319.9,1076.4 321.1,1108.1 322.3,1070.5 323.4,1110.4 324.6,1081.4 325.8,1116.5 327.0,1094.0 328.1,1117.9 329.3,1071.0 330.5,1108.5 331.7,1074.7 332.8,1105.3 334.0,1086.9 335.0,1130.8 336.0,1150.0 337.0,1190.0 338.0,1230.0 339.0,1284.0 340.0,1284.0 341.0,1284.0 342.0,1251.5 343.0,1219.0 344.1,1192.8 345.2,1166.5 346.4,1140.2 347.5,1114.0 348.5,1116.0 349.5,1118.0 350.6,1120.0 351.6,1122.0 352.6,1124.0 353.6,1142.0 354.6,1160.0 355.6,1178.0 356.6,1196.0 357.6,1214.0 358.6,1225.8 359.6,1237.6 360.7,1249.4 361.7,1261.2 362.7,1273.0 363.8,1258.6 364.8,1244.2 365.8,1229.9 366.9,1215.5 368.1,1227.0 369.3,1238.5 370.4,1250.0 371.6,1261.5 372.8,1273.0 373.9,1275.8 374.9,1278.5 375.9,1281.2 377.0,1284.0" fill="none" stroke="#064d64" stroke-width="4.4" stroke-linejoin="round" stroke-linecap="butt"/>
<polyline points="684.8,1170.2 684.8,1156.5 685.9,1139.2 687.0,1148.6 688.1,1131.8 689.2,1139.3 690.2,1127.8 691.2,1139.8 692.2,1126.8 692.9,1141.3 693.6,1144.7 694.6,1159.5 695.6,1151.5 696.6,1170.6 697.8,1159.5 699.0,1162.8 700.1,1145.8 701.3,1158.9 702.5,1138.0 703.4,1163.6 704.4,1158.4 705.3,1180.8 706.2,1185.5 707.2,1180.2 708.1,1159.1 709.1,1151.7 710.1,1141.6 711.2,1158.2 712.2,1147.7 713.3,1155.7 714.3,1152.3 715.4,1171.1 716.5,1162.9 717.6,1179.4 718.7,1176.4 719.8,1183.6 720.9,1173.9 722.0,1183.4 723.2,1172.7 724.3,1174.3 725.4,1163.1 726.5,1177.6 727.6,1160.9 728.8,1173.4 730.0,1170.7 731.1,1196.2 732.3,1185.7 733.5,1199.7 734.6,1180.6 735.7,1187.4 736.8,1176.4 737.9,1175.9 739.0,1158.5 740.0,1176.6 741.1,1166.9 742.1,1172.3 743.2,1159.8 744.2,1171.4 745.3,1159.5 746.4,1173.4 747.4,1161.2 748.5,1169.3 749.5,1158.4 750.6,1171.3 751.6,1161.1 752.7,1169.9 753.8,1167.4 754.9,1181.2 756.0,1170.1 757.2,1188.3 758.3,1178.9 759.4,1197.2 760.5,1181.1 761.6,1194.6 762.7,1184.2 763.8,1195.9 764.9,1178.5 766.0,1193.9 767.1,1175.0 768.2,1180.3 769.3,1168.1 770.4,1176.8 771.4,1169.7 772.4,1183.3 773.4,1184.0 774.6,1192.8 775.8,1188.1 776.9,1200.4 778.1,1192.6 779.3,1206.8 780.3,1191.4 781.2,1197.0 782.2,1175.8 783.4,1198.9 784.6,1188.7 785.8,1209.7 787.0,1192.9 788.2,1207.0 789.2,1199.6 790.3,1204.4 791.3,1194.2 792.4,1199.9 793.4,1178.6 794.5,1190.2 795.5,1180.8 796.6,1186.7 797.7,1181.4 798.8,1190.5 800.0,1182.4 801.1,1191.3 802.2,1174.8 803.3,1189.5 804.4,1182.0 805.5,1203.8 806.6,1196.3 807.7,1219.4 808.8,1217.9 810.0,1222.9 811.2,1203.8 812.3,1213.3 813.5,1196.9 814.7,1201.3 815.8,1198.1 816.9,1211.1 818.0,1200.1 819.2,1217.3 820.3,1215.0 821.4,1226.9 822.5,1220.1 823.6,1234.0 824.6,1218.0 825.5,1215.4 826.5,1196.4 827.6,1215.6 828.8,1215.5 829.9,1231.6 831.0,1230.4 832.1,1235.5 833.2,1225.3 834.3,1221.6 835.4,1210.6 836.5,1223.1 837.6,1220.9 838.7,1234.4 839.8,1226.1 841.0,1238.7 842.1,1233.1 843.2,1244.6 844.3,1235.6 845.3,1230.3 846.2,1208.2 847.2,1202.5 848.3,1204.2 849.5,1223.8 850.6,1216.5 851.7,1240.6 852.7,1217.4 853.7,1210.8 854.8,1195.6 855.8,1189.0 856.8,1176.1 857.9,1177.6 859.0,1179.1 860.1,1193.1 861.2,1207.2 862.4,1221.2 863.5,1235.2 863.5,1292.8" fill="none" stroke="#005a00" stroke-width="4.4" stroke-linejoin="round" stroke-linecap="butt"/>
<polyline points="126.0,1514.5 127.1,1516.7 128.2,1513.8 129.2,1515.6 130.3,1513.5 131.4,1516.3 132.5,1513.2 133.5,1514.0 134.6,1512.1 135.7,1516.9 136.8,1513.9 137.9,1517.7 139.1,1514.5 140.2,1515.8 141.3,1512.4 142.4,1516.4 143.6,1513.7 144.7,1516.7 145.8,1513.2 146.9,1516.8 148.0,1515.3 149.2,1517.7 150.3,1515.0 151.4,1518.9 152.5,1517.4 153.6,1520.3 154.8,1517.0 155.9,1519.2 157.0,1515.2 158.1,1518.0 159.2,1514.4 160.4,1519.1 161.5,1514.0 162.6,1517.0 163.7,1515.3 164.9,1516.7 166.0,1514.8 167.1,1517.6 168.3,1515.4 169.4,1517.3 170.6,1514.9 171.7,1519.1 172.9,1513.8 174.0,1515.0 175.2,1513.8 176.4,1517.4 177.5,1513.2 178.7,1516.8 179.8,1513.9 181.0,1516.2 182.1,1511.8 183.3,1516.6 184.4,1514.3 185.6,1516.0 186.8,1512.6 187.9,1517.0 189.1,1514.2 190.2,1516.8 191.4,1512.3 192.5,1514.2 193.7,1513.5 194.5,1512.3 195.3,1507.8 196.4,1518.0 197.6,1528.2 198.4,1523.5 199.2,1518.8 200.0,1514.1 201.0,1503.6 202.1,1493.2 203.1,1482.7 204.3,1476.8 205.4,1471.0 206.6,1465.1 207.8,1459.2 208.9,1457.1 209.9,1455.0 210.9,1453.0 212.0,1450.9 213.1,1448.8 214.1,1446.7 215.1,1446.4 216.0,1435.0 217.2,1451.6 218.4,1437.8 219.6,1447.3 220.8,1427.8 222.0,1452.1 223.2,1428.5 224.4,1441.1 225.5,1435.3 226.7,1445.4 227.9,1431.4 229.1,1452.2 230.3,1435.9 231.5,1450.9 232.6,1425.4 233.8,1441.4 235.0,1431.3 236.2,1455.6 237.4,1436.1 238.5,1448.7 239.7,1438.8 240.9,1447.1 242.1,1429.0 243.3,1449.2 244.5,1430.6 245.6,1463.4 246.8,1440.8 248.0,1449.2 249.1,1438.9 250.3,1462.1 251.4,1448.2 252.6,1460.5 253.7,1446.7 254.9,1459.2 256.0,1446.5 257.0,1470.4 258.0,1473.4 259.1,1475.3 260.2,1473.0 261.3,1477.0 262.4,1474.9 263.5,1478.9 264.6,1478.9 265.7,1482.6 266.8,1478.5 267.9,1482.5 269.0,1481.1 270.1,1484.2 271.3,1478.8 272.4,1481.2 273.5,1478.8 274.6,1482.6 275.8,1476.4 276.9,1479.9 278.0,1479.5 279.2,1483.0 280.3,1479.6 281.4,1481.8 282.6,1480.1 283.7,1485.4 284.9,1482.3 286.0,1485.4 287.1,1482.0 288.3,1488.8 289.4,1485.6 290.6,1489.1 291.8,1484.8 292.9,1488.3 294.1,1485.7 295.3,1489.9 296.5,1486.8 297.6,1488.0 298.8,1485.7 300.0,1489.4 301.1,1488.5 302.2,1494.6 303.3,1490.8 304.5,1495.2 305.6,1495.0 306.7,1498.0 307.8,1497.1 308.9,1502.3 310.1,1501.8 311.2,1507.1 312.3,1505.5 313.4,1512.2 314.6,1511.1 315.7,1516.4 316.8,1513.9 317.9,1518.0 319.0,1518.6 320.2,1525.5 321.3,1523.7 322.4,1529.5 323.5,1528.7 324.6,1523.3 325.6,1511.7 326.7,1508.2 327.9,1508.0 329.0,1518.0 330.2,1520.5 331.4,1528.5 332.5,1525.1 333.6,1528.7 334.7,1528.7 335.9,1531.4 337.0,1529.2 338.1,1530.6 339.2,1527.7 340.2,1524.0 341.3,1515.6 342.4,1512.1 343.4,1503.2 344.4,1498.7 345.5,1490.6 346.6,1498.0 347.6,1499.7 348.6,1504.1 349.7,1505.7 350.8,1511.5 351.8,1512.2 352.9,1524.6 354.0,1532.3 355.1,1548.0 356.2,1553.8 357.3,1573.3 358.4,1544.9 359.5,1531.1 360.6,1501.2 361.7,1490.2 362.8,1464.5 364.0,1466.1 365.1,1461.5 366.3,1471.7 367.5,1464.0 368.6,1513.3 369.8,1557.3 370.8,1534.3 371.8,1499.5 372.8,1479.8 373.8,1446.7 374.8,1477.4 375.8,1497.8 376.7,1532.7 377.7,1558.7 378.7,1540.0 379.6,1508.1 380.6,1488.8 381.6,1460.3 382.7,1468.3 383.7,1459.2 384.8,1468.1 385.8,1462.7 386.8,1468.4 387.9,1461.1 388.9,1496.4 390.0,1516.0 391.0,1545.7 392.0,1516.8 393.1,1499.3 394.1,1473.5 395.2,1512.7 396.2,1538.0 397.3,1575.0 398.5,1557.3 399.6,1556.8 400.8,1535.3 402.0,1530.8 403.2,1532.6 404.4,1549.9 405.5,1551.1 406.7,1563.7 407.9,1530.1 409.0,1512.0 410.2,1483.1 411.4,1463.7 412.6,1478.8 413.8,1510.1 414.9,1527.1 416.1,1554.7 417.3,1530.3 418.5,1511.8 419.6,1479.4 420.8,1465.3 422.0,1454.7 423.1,1457.2 424.3,1443.3 425.5,1449.4 426.7,1445.1 427.9,1451.5 429.0,1445.0 430.2,1454.7 431.0,1491.6 431.8,1540.4 432.6,1575.4 433.7,1571.8 434.8,1559.2 435.9,1559.2 437.0,1544.4 438.1,1540.4 439.3,1517.0 440.5,1510.1 441.6,1490.5 442.8,1482.1 443.8,1501.9 444.9,1534.1 445.9,1554.6 447.0,1556.0 448.2,1539.8 449.3,1543.6 450.4,1536.5 451.5,1536.0 452.7,1524.1 453.8,1529.6 454.8,1522.4 455.9,1530.7 456.9,1522.9 457.9,1529.4 459.0,1526.9 460.0,1536.4 461.0,1534.4 461.9,1546.2 462.9,1546.2 463.8,1560.2 464.8,1558.8 465.8,1560.1 466.9,1553.2 467.9,1557.4 468.9,1549.8 470.0,1556.3 471.0,1547.2 472.1,1564.1 473.1,1573.2 474.2,1593.6 475.4,1582.1 476.5,1582.6 477.7,1577.1 478.9,1580.3 480.1,1574.9 481.2,1582.6 482.4,1581.6 483.6,1585.3 484.8,1581.4 485.9,1588.3 487.1,1581.4 488.3,1588.2 489.5,1588.9 490.6,1600.8 491.8,1598.5 493.0,1609.5 494.2,1604.7 495.4,1609.7 496.5,1605.5 497.7,1617.4 498.8,1614.3 499.8,1622.3 500.9,1616.4 501.9,1621.2 502.9,1613.1 504.0,1620.8 504.0,1615.5 505.1,1622.2 506.2,1619.4 507.4,1620.3 508.5,1618.7 509.6,1623.6 510.7,1616.0 511.9,1625.0 513.0,1617.2 514.1,1621.1 515.2,1617.6 516.3,1622.1 517.5,1618.5 518.6,1623.4 519.7,1620.8" fill="none" stroke="#005a00" stroke-width="4.4" stroke-linejoin="round" stroke-linecap="butt"/>
<polyline points="352.9,1524.6 354.0,1532.3 355.1,1548.0 356.2,1553.8 357.3,1573.3 358.4,1544.9 359.5,1531.1 360.6,1501.2 361.7,1490.2 362.8,1464.5 364.0,1466.1 365.1,1461.5 366.3,1471.7 367.5,1464.0 368.6,1513.3 369.8,1557.3 370.8,1534.3 371.8,1499.5 372.8,1479.8 373.8,1446.7 374.8,1477.4 375.8,1497.8 376.7,1532.7 377.7,1558.7 378.7,1540.0 379.6,1508.1 380.6,1488.8 381.6,1460.3 382.7,1468.3 383.7,1459.2 384.8,1468.1 385.8,1462.7 386.8,1468.4 387.9,1461.1 388.9,1496.4 390.0,1516.0 391.0,1545.7 392.0,1516.8 393.1,1499.3 394.1,1473.5 395.2,1512.7 396.2,1538.0 397.3,1575.0 398.5,1557.3 399.6,1556.8 400.8,1535.3 402.0,1530.8 403.2,1532.6 404.4,1549.9 405.5,1551.1 406.7,1563.7 407.9,1530.1 409.0,1512.0 410.2,1483.1 411.4,1463.7 412.6,1478.8 413.8,1510.1 414.9,1527.1 416.1,1554.7 417.3,1530.3 418.5,1511.8 419.6,1479.4 420.8,1465.3 422.0,1454.7 423.1,1457.2 424.3,1443.3 425.5,1449.4 426.7,1445.1 427.9,1451.5 429.0,1445.0 430.2,1454.7 431.0,1491.6 431.8,1540.4 432.6,1575.4 433.7,1571.8 434.8,1559.2 435.9,1559.2 437.0,1544.4 438.1,1540.4 439.3,1517.0 440.5,1510.1 441.6,1490.5 442.8,1482.1 443.8,1501.9 444.9,1534.1 445.9,1554.6 447.0,1556.0" fill="none" stroke="#005a00" stroke-width="6.5" stroke-linejoin="round" stroke-linecap="butt"/>
<polyline points="126.0,1508.4 127.2,1512.5 128.3,1511.8 129.5,1510.9 130.7,1509.9 131.8,1513.4 133.0,1510.6 134.2,1510.5 135.3,1511.2 136.5,1511.5 137.7,1508.0 138.8,1508.2 140.0,1506.9 141.2,1509.0 142.3,1507.6 143.5,1509.6 144.6,1507.6 145.6,1510.1 146.7,1506.4 147.9,1505.2 149.0,1505.1 150.2,1508.8 151.4,1506.7 152.6,1507.1 153.8,1503.6 154.9,1504.6 156.1,1502.8 157.3,1506.8 158.4,1507.2 159.6,1508.6 160.8,1507.1 162.0,1508.6 163.2,1505.3 164.3,1505.5 165.5,1506.5 166.7,1509.0 167.8,1508.0 169.0,1507.4 170.2,1503.5 171.4,1505.3 172.6,1504.3 173.7,1506.0 174.9,1506.2 175.7,1545.5 176.8,1529.8 178.0,1514.0 178.8,1497.3 179.6,1480.7 180.4,1464.0 181.4,1458.1 182.4,1452.2 183.3,1446.3 184.3,1440.4 185.5,1440.9 186.7,1441.1 187.8,1442.7 189.0,1441.3 190.1,1444.6 191.1,1445.1 192.2,1448.5 193.4,1442.5 194.6,1440.6 195.7,1436.1 196.9,1436.2 197.9,1436.3 199.0,1437.3 200.0,1435.6 201.0,1439.8 202.1,1440.3 203.1,1443.1 204.3,1444.2 205.4,1447.6 206.6,1448.8 207.8,1453.3 208.9,1454.9 209.9,1460.7 211.0,1461.0 212.1,1461.7 213.1,1462.3 214.2,1466.1 215.2,1464.6 216.2,1466.8 217.3,1467.2 218.4,1469.5 219.6,1466.8 220.7,1468.4 221.8,1467.4 223.0,1471.8 224.1,1472.6 225.3,1473.3 226.4,1472.8 227.5,1476.6 228.7,1476.2 229.8,1478.8 230.9,1476.6 231.9,1476.7 232.9,1474.3 234.0,1476.3 235.1,1476.4 236.1,1480.4 237.2,1477.8 238.3,1480.2 239.4,1482.1 240.6,1486.0 241.7,1483.3 242.8,1486.5 243.9,1488.6 245.0,1494.1 246.2,1496.0 247.3,1497.9 248.4,1498.9 249.5,1505.8 250.7,1508.0 251.8,1514.6 253.0,1505.2 254.2,1502.0 255.3,1500.4 256.5,1502.7 257.7,1503.9 258.9,1506.4 260.0,1504.1 261.2,1515.6 262.2,1513.4 263.3,1511.0 264.4,1504.7 265.4,1509.0 266.4,1505.0 267.5,1501.5 268.7,1502.5 269.9,1511.3 271.0,1509.1 272.2,1511.4 273.4,1502.9 274.5,1502.0 275.7,1498.6 276.9,1492.1 277.9,1491.3 279.0,1498.8 280.0,1502.0 281.0,1515.0 282.1,1524.1 283.1,1538.5 284.2,1557.2 285.2,1575.7 286.3,1591.6 287.3,1602.1 288.4,1609.5 289.4,1618.9 290.4,1624.8 291.5,1632.9 292.5,1638.7 293.6,1633.9 294.6,1626.7 295.7,1623.2 296.8,1622.2 297.9,1622.4 298.9,1621.4 300.0,1623.0 301.2,1622.9 302.4,1624.6 303.5,1621.7 304.7,1623.2 305.9,1628.2 307.0,1633.5 308.2,1635.7 309.4,1639.8 310.2,1658.8 311.0,1681.3 312.2,1674.2 313.4,1669.4 314.5,1661.4 315.7,1654.9 316.9,1655.2 318.0,1658.1 319.2,1655.7 320.4,1656.4 321.4,1659.9 322.5,1665.2 323.5,1667.7 324.3,1680.8 325.1,1693.0" fill="none" stroke="#a00000" stroke-width="4.4" stroke-linejoin="round" stroke-linecap="butt"/>
<polyline points="126.0,1520.7 126.9,1528.4 127.8,1529.4 129.0,1532.9 130.2,1528.2 131.3,1532.6 132.5,1532.1 133.6,1531.9 134.8,1528.1 135.9,1530.2 137.0,1526.6 138.1,1531.4 139.3,1527.1 140.4,1531.8 141.5,1527.7 142.6,1529.2 143.7,1524.4 144.8,1528.8 145.9,1526.4 147.0,1528.5 148.1,1522.8 149.2,1525.4 150.3,1523.0 151.4,1526.5 152.5,1522.6 153.6,1526.3 154.8,1522.3 155.9,1528.7 157.0,1524.9 158.1,1526.5 159.2,1523.8 160.4,1526.7 161.5,1522.0 162.6,1527.0 163.7,1523.2 164.9,1526.3 166.0,1521.2 167.1,1523.6 168.2,1522.9 169.3,1527.4 170.4,1525.3 171.6,1528.0 172.7,1524.5 173.8,1529.2 174.9,1527.5 175.9,1553.8 177.0,1577.6 178.0,1603.5 179.0,1600.8 180.0,1598.0 181.0,1595.2 182.0,1592.5 183.2,1553.3 184.3,1514.1 185.4,1503.6 186.4,1493.2 187.5,1482.7 188.7,1475.7 189.8,1468.6 191.0,1461.5 192.2,1454.5 193.4,1453.3 194.6,1452.2 195.7,1451.0 196.9,1449.8 197.9,1451.0 199.0,1450.7 200.0,1453.4 201.0,1453.1 202.1,1456.8 203.1,1454.7 204.2,1457.2 205.2,1454.6 206.2,1457.6 207.3,1453.3 208.3,1456.2 209.4,1454.6 210.6,1456.4 211.8,1453.2 212.9,1455.3 214.1,1452.8 215.2,1457.0 216.4,1457.6 217.5,1461.2 218.6,1460.3 219.7,1464.7 220.9,1464.9 222.0,1467.6 223.1,1467.5 224.2,1472.0 225.3,1470.0 226.5,1474.8 227.6,1470.4 228.7,1476.6 229.8,1475.3 230.9,1479.8 232.0,1477.0 233.1,1481.0 234.2,1480.3 235.3,1481.5 236.4,1480.8 237.5,1484.8 238.6,1483.4 239.7,1484.4 240.8,1483.6 241.9,1487.9 242.9,1485.1 243.9,1486.1 245.0,1481.3 246.1,1481.8 247.1,1480.0 248.1,1482.4 249.2,1478.0 250.2,1479.9 251.2,1474.2 252.3,1476.6 253.3,1472.5 254.4,1474.9 255.6,1471.9 256.7,1473.6 257.8,1467.5 258.9,1471.6 260.1,1469.1 261.2,1468.9 262.4,1464.0 263.6,1465.6 264.7,1464.7 265.9,1468.1 267.1,1464.1 268.2,1466.4 269.4,1461.5 270.6,1464.0 271.8,1460.7 273.0,1462.5 274.1,1460.1 275.3,1462.6 276.5,1460.6 277.6,1460.4 278.8,1457.8 280.0,1461.9 281.2,1457.0 282.4,1459.0 283.5,1456.6 284.7,1458.9 285.8,1455.7 286.9,1458.0 288.1,1456.1 289.2,1459.3 290.3,1454.8 291.4,1456.8 292.5,1453.3 293.7,1458.1 294.8,1454.7 295.9,1456.2 297.0,1453.7 298.2,1455.8 299.3,1452.0 300.4,1454.4 301.6,1454.4 302.8,1457.3 304.0,1453.0 305.2,1455.9 306.4,1451.4 307.6,1454.9 308.7,1454.2 309.9,1457.1 311.1,1452.5 312.3,1455.6 313.5,1453.7 314.7,1456.7 315.9,1453.2 317.1,1455.1 318.3,1451.6 319.5,1455.6 320.7,1451.4 321.9,1454.5 323.1,1452.0 324.2,1454.4 325.4,1451.9 326.6,1454.7 327.8,1453.3 329.0,1454.9 330.2,1451.8 331.4,1453.8 332.5,1451.3 333.6,1454.3 334.8,1451.0 335.9,1454.4 337.0,1450.2 338.1,1452.3 339.2,1450.4 340.4,1453.4 341.5,1450.6 342.6,1453.9 343.7,1451.3 344.9,1452.9 346.0,1450.4 347.1,1452.6 348.2,1449.0 349.3,1453.1 350.5,1450.6 351.6,1452.3 352.7,1449.7 353.8,1453.9 355.0,1450.5 356.1,1452.9 357.2,1450.0 358.3,1451.6 359.4,1449.6 360.6,1452.6 361.7,1448.6 362.8,1451.6 363.9,1448.7 365.0,1452.4 366.1,1451.8 367.3,1452.9 368.4,1450.7 369.5,1453.9 370.6,1452.8 371.8,1457.1 373.0,1459.3 374.1,1464.0 375.3,1467.1 376.1,1559.7 376.9,1652.2 377.7,1610.7 378.5,1569.1 379.5,1610.4 380.7,1585.1 381.8,1603.2 383.0,1594.4 384.0,1612.4 385.0,1585.7 386.0,1616.2 387.0,1606.8 388.0,1618.9 389.0,1580.7 390.0,1593.7 391.0,1576.6 392.0,1598.0 393.0,1573.6 394.0,1584.0 395.1,1548.9 396.2,1589.2 397.3,1557.0 398.4,1570.3 399.5,1556.1 400.6,1586.8 401.7,1572.0 402.8,1593.3 403.9,1560.3 405.0,1590.2 406.0,1576.1 407.0,1599.6 408.0,1592.0 409.2,1600.1 410.3,1591.3 411.5,1604.9 412.6,1600.1 413.8,1605.9 414.9,1604.5 416.1,1610.5 417.3,1614.5 418.5,1624.9 419.6,1629.7 420.8,1639.1 421.6,1663.4 422.4,1694.6 423.4,1683.7 424.5,1680.1 425.5,1670.9 426.6,1673.3 427.8,1672.9 428.9,1677.9 430.0,1675.4 431.1,1677.5 432.3,1677.5 433.4,1681.3 434.5,1677.7 435.6,1680.7 436.8,1677.6 437.9,1681.2 439.0,1678.7 440.1,1681.4 441.2,1679.2 442.4,1681.2 443.5,1678.1 444.6,1681.4 445.7,1680.3 446.9,1681.5 448.0,1680.0 449.1,1684.7 450.3,1681.3 451.5,1682.8 452.6,1683.3 453.8,1687.6 455.0,1686.4 456.1,1689.3 457.3,1684.8 458.5,1687.9 459.7,1687.5 460.9,1689.9 462.0,1688.5 463.2,1693.2 464.2,1687.1 465.3,1684.3 466.3,1675.3 467.5,1677.9 468.7,1675.2 469.9,1679.1 471.0,1676.9 472.2,1679.8 473.4,1676.0 474.6,1680.1 475.8,1680.0 476.9,1681.5 478.1,1678.9 479.3,1681.3 480.5,1679.0 481.6,1683.4 482.7,1679.8 483.8,1682.9 485.0,1680.2 486.1,1684.8 487.2,1682.7 488.3,1684.4 489.5,1683.8 490.6,1687.8 491.8,1686.0 493.0,1689.5 494.2,1688.2 495.4,1692.9 496.5,1688.8 497.7,1691.5 498.5,1684.3 499.3,1680.5" fill="none" stroke="#064d64" stroke-width="4.4" stroke-linejoin="round" stroke-linecap="butt"/>
<polyline points="682.0,1574.9 683.2,1604.3 684.4,1586.1 685.6,1603.2 686.8,1580.7 688.0,1602.9 689.2,1593.3 690.4,1604.5 691.6,1575.1 692.8,1591.6 694.0,1588.0 695.2,1601.7 696.4,1585.4 697.6,1606.8 698.8,1585.2 700.0,1612.3 701.2,1583.5 702.4,1596.9 703.6,1583.9 704.8,1601.1 706.0,1577.0 707.2,1597.4 708.4,1577.5 709.6,1610.7 710.8,1580.6 712.0,1594.2 713.0,1650.0 714.0,1632.7 715.0,1606.3 716.0,1611.6 717.2,1583.0 718.4,1606.3 719.6,1583.6 720.8,1604.0 722.0,1578.8 723.2,1605.0 724.4,1576.1 725.6,1596.7 726.8,1581.5 728.0,1593.4 729.2,1565.4 730.4,1587.9 731.6,1580.9 732.8,1590.5 734.0,1573.7 735.2,1597.7 736.4,1577.3 737.6,1596.6 738.8,1561.0 740.0,1585.2 741.2,1568.4 742.4,1595.3 743.6,1583.5 744.8,1592.1 746.0,1562.4 747.2,1583.5 748.4,1566.7 749.6,1596.6 750.8,1563.8 752.0,1590.2 753.2,1567.2 754.4,1601.0 755.6,1569.8 756.8,1578.8 758.0,1562.2 759.0,1586.8 760.0,1586.9 761.2,1615.9 762.3,1595.3 763.5,1601.0 764.7,1584.6 765.8,1605.7 767.0,1588.4 768.2,1615.2 769.3,1592.2 770.5,1598.3 771.7,1583.6 772.8,1602.9 774.0,1584.5 775.2,1610.7 776.3,1596.8 777.5,1605.0 778.7,1579.5 779.8,1602.8 781.0,1585.6 782.2,1607.2 783.3,1584.8 784.5,1602.3 785.7,1574.1 786.8,1602.8 788.0,1590.0 789.2,1606.5 790.3,1583.3 791.5,1592.7 792.7,1581.0 793.8,1599.3 795.0,1576.4 796.0,1598.0 797.0,1570.7 798.0,1592.1 799.0,1574.3 800.0,1588.1 801.1,1571.5 802.3,1591.0 803.4,1560.3 804.6,1583.4 805.7,1559.4 806.9,1580.3 808.0,1558.9 809.0,1557.5 810.0,1527.3 811.0,1513.9 812.0,1499.0 812.8,1504.5 813.5,1510.0 814.7,1541.8 815.8,1564.5 817.0,1599.1 818.0,1580.0 819.0,1586.4 820.0,1559.5 821.0,1572.6 822.0,1541.2 823.1,1564.7 824.3,1536.9 825.4,1557.1 826.6,1538.5 827.7,1565.8 828.9,1546.3 830.0,1557.4 831.0,1544.4 832.0,1558.6 833.0,1560.0 833.8,1541.5 834.6,1523.0 835.5,1544.0 836.5,1565.0 837.2,1573.5 838.0,1548.4 839.2,1560.9 840.4,1552.8 841.6,1576.5 842.8,1569.4 844.0,1585.4 845.0,1580.2 846.0,1595.2 847.0,1614.9 848.0,1642.9 849.0,1627.1 850.0,1617.7 851.0,1601.3 852.0,1613.4 853.0,1617.7 854.0,1627.5 855.0,1631.9 856.0,1650.9 857.0,1660.9 858.0,1649.9 859.0,1630.9 860.0,1622.4 861.0,1630.2 862.0,1643.4 863.0,1606.4 864.0,1575.4 864.8,1604.3 865.7,1641.2 866.5,1672.7 867.3,1661.1 868.2,1642.0 869.0,1631.4 870.0,1633.2 871.0,1641.2 872.0,1619.2 873.0,1603.4 873.9,1587.0 874.8,1577.6 875.7,1561.2 876.6,1551.5 877.7,1575.4 878.9,1607.9 880.0,1628.3 881.0,1638.0 882.0,1642.4 883.0,1660.1 884.0,1657.5 885.0,1674.4 886.0,1662.8 887.0,1679.9 888.0,1666.9 889.1,1682.9 890.3,1668.7 891.4,1679.6 892.5,1660.1 893.7,1676.1 894.8,1667.5 895.9,1682.3 897.1,1667.9 898.2,1685.3 899.3,1667.8 900.5,1675.2 901.6,1664.3 902.7,1674.4 903.9,1668.0 905.0,1682.3 906.2,1675.1 907.3,1688.4 908.5,1673.8 909.7,1677.3 910.8,1672.6 912.0,1682.6 913.2,1677.1 914.3,1686.3 915.5,1686.2 916.6,1691.1 917.8,1693.0" fill="none" stroke="#005a00" stroke-width="4.4" stroke-linejoin="round" stroke-linecap="butt"/>
<line x1="1161.0" y1="181.1" x2="1161.0" y2="470.4" stroke="#000" stroke-width="3.2"/>
<line x1="1152" y1="468.9" x2="1161.0" y2="468.9" stroke="#000" stroke-width="2.9"/>
<text x="1149.6" y="476.1" font-size="20.5" font-weight="bold" text-anchor="end">0</text>
<line x1="1152" y1="397.3" x2="1161.0" y2="397.3" stroke="#000" stroke-width="2.9"/>
<text x="1149.6" y="404.5" font-size="20.5" font-weight="bold" text-anchor="end">50</text>
<line x1="1152" y1="325.8" x2="1161.0" y2="325.8" stroke="#000" stroke-width="2.9"/>
<text x="1149.6" y="332.9" font-size="20.5" font-weight="bold" text-anchor="end">100</text>
<line x1="1152" y1="254.2" x2="1161.0" y2="254.2" stroke="#000" stroke-width="2.9"/>
<text x="1149.6" y="261.4" font-size="20.5" font-weight="bold" text-anchor="end">150</text>
<line x1="1152" y1="182.6" x2="1161.0" y2="182.6" stroke="#000" stroke-width="2.9"/>
<text x="1149.6" y="189.8" font-size="20.5" font-weight="bold" text-anchor="end">200</text>
<text transform="translate(1072.9,322.9) rotate(-90)" font-size="25.4" font-weight="bold" text-anchor="middle" textLength="376.7" lengthAdjust="spacingAndGlyphs">Time to Terminal HIPP Hypoxia</text>
<text transform="translate(1103.0,319.1) rotate(-90)" font-size="25.4" font-weight="bold" text-anchor="middle" textLength="111.5" lengthAdjust="spacingAndGlyphs">(Minutes)</text>
<path d="M1218.2,188.6 V176.5 H1390.5 V188.6" fill="none" stroke="#000" stroke-width="2.6"/>
<path d="M1218.2,233.3 V220.8 H1299.9 V233.3" fill="none" stroke="#000" stroke-width="2.6"/>
<path d="M1308.4,233.3 V220.8 H1390.5 V233.3" fill="none" stroke="#000" stroke-width="2.6"/>
<text x="1304.3" y="175.9" font-size="26.5" font-weight="bold" text-anchor="middle" textLength="35.1" lengthAdjust="spacingAndGlyphs">***</text>
<text x="1259.3" y="219.5" font-size="26.5" font-weight="bold" text-anchor="middle" textLength="11.7" lengthAdjust="spacingAndGlyphs">*</text>
<text x="1349.5" y="219.5" font-size="26.5" font-weight="bold" text-anchor="middle" textLength="46.8" lengthAdjust="spacingAndGlyphs">****</text>
<line x1="1218.4" y1="369.7" x2="1218.4" y2="405.5" stroke="#064d64" stroke-width="3.2"/>
<line x1="1204.0" y1="369.7" x2="1232.8000000000002" y2="369.7" stroke="#064d64" stroke-width="3.2"/>
<line x1="1204.0" y1="405.5" x2="1232.8000000000002" y2="405.5" stroke="#064d64" stroke-width="3.2"/>
<rect x="1190.2" y="387.5" width="56.4" height="16.0" fill="#96b9c3" stroke="#064d64" stroke-width="3.2"/>
<line x1="1190.2" y1="395.0" x2="1246.6000000000001" y2="395.0" stroke="#064d64" stroke-width="3.2"/>
<circle cx="1226.0" cy="369.1" r="6.5" fill="#064d64"/>
<circle cx="1210.5" cy="379.3" r="6.5" fill="#064d64"/>
<circle cx="1233.8" cy="385.9" r="6.5" fill="#064d64"/>
<circle cx="1226.0" cy="391.0" r="6.5" fill="#064d64"/>
<circle cx="1203.0" cy="398.0" r="6.5" fill="#064d64"/>
<circle cx="1216.0" cy="399.0" r="6.5" fill="#064d64"/>
<circle cx="1231.0" cy="399.0" r="6.5" fill="#064d64"/>
<circle cx="1240.0" cy="400.0" r="6.5" fill="#064d64"/>
<circle cx="1195.5" cy="405.0" r="6.5" fill="#064d64"/>
<circle cx="1209.9" cy="405.5" r="6.5" fill="#064d64"/>
<circle cx="1226.0" cy="407.0" r="6.5" fill="#064d64"/>
<circle cx="1241.0" cy="405.0" r="6.5" fill="#064d64"/>
<line x1="1304.6" y1="414.0" x2="1304.6" y2="447.4" stroke="#a00000" stroke-width="3.2"/>
<line x1="1290.1999999999998" y1="414.0" x2="1319.0" y2="414.0" stroke="#a00000" stroke-width="3.2"/>
<line x1="1290.1999999999998" y1="447.4" x2="1319.0" y2="447.4" stroke="#a00000" stroke-width="3.2"/>
<rect x="1276.1999999999998" y="421.0" width="56.8" height="23.399999999999977" fill="#d48b8b" stroke="#a00000" stroke-width="3.2"/>
<line x1="1276.1999999999998" y1="432.0" x2="1333.0" y2="432.0" stroke="#a00000" stroke-width="3.2"/>
<circle cx="1282.2" cy="414.6" r="6.5" fill="#a00000"/>
<circle cx="1315.7" cy="413.4" r="6.5" fill="#a00000"/>
<circle cx="1327.0" cy="418.1" r="6.5" fill="#a00000"/>
<circle cx="1302.0" cy="426.5" r="6.5" fill="#a00000"/>
<circle cx="1313.9" cy="426.5" r="6.5" fill="#a00000"/>
<circle cx="1293.0" cy="438.5" r="6.5" fill="#a00000"/>
<circle cx="1282.2" cy="445.0" r="6.5" fill="#a00000"/>
<circle cx="1304.3" cy="444.4" r="6.5" fill="#a00000"/>
<circle cx="1315.0" cy="442.0" r="6.5" fill="#a00000"/>
<circle cx="1327.0" cy="447.4" r="6.5" fill="#a00000"/>
<line x1="1390.6" y1="245.8" x2="1390.6" y2="404.7" stroke="#005a00" stroke-width="3.2"/>
<line x1="1376.1999999999998" y1="245.8" x2="1405.0" y2="245.8" stroke="#005a00" stroke-width="3.2"/>
<line x1="1376.1999999999998" y1="404.7" x2="1405.0" y2="404.7" stroke="#005a00" stroke-width="3.2"/>
<rect x="1363.1999999999998" y="304.6" width="54.8" height="76.19999999999999" fill="#8db88e" stroke="#005a00" stroke-width="3.2"/>
<line x1="1363.1999999999998" y1="321.0" x2="1418.0" y2="321.0" stroke="#005a00" stroke-width="3.2"/>
<circle cx="1390.5" cy="245.8" r="6.5" fill="#005a00"/>
<circle cx="1411.8" cy="296.6" r="6.5" fill="#005a00"/>
<circle cx="1367.3" cy="306.1" r="6.5" fill="#005a00"/>
<circle cx="1390.5" cy="303.6" r="6.5" fill="#005a00"/>
<circle cx="1411.8" cy="309.3" r="6.5" fill="#005a00"/>
<circle cx="1390.5" cy="322.0" r="6.5" fill="#005a00"/>
<circle cx="1390.5" cy="341.1" r="6.5" fill="#005a00"/>
<circle cx="1367.3" cy="371.3" r="6.5" fill="#005a00"/>
<circle cx="1411.8" cy="384.0" r="6.5" fill="#005a00"/>
<circle cx="1390.5" cy="387.2" r="6.5" fill="#005a00"/>
<circle cx="1390.5" cy="404.7" r="6.5" fill="#005a00"/>
<line x1="1161.0" y1="623.2" x2="1161.0" y2="913.5" stroke="#000" stroke-width="3.2"/>
<line x1="1152" y1="912.0" x2="1161.0" y2="912.0" stroke="#000" stroke-width="2.9"/>
<text x="1149.6" y="919.2" font-size="20.5" font-weight="bold" text-anchor="end">0</text>
<line x1="1152" y1="840.2" x2="1161.0" y2="840.2" stroke="#000" stroke-width="2.9"/>
<text x="1149.6" y="847.4" font-size="20.5" font-weight="bold" text-anchor="end">50</text>
<line x1="1152" y1="768.4" x2="1161.0" y2="768.4" stroke="#000" stroke-width="2.9"/>
<text x="1149.6" y="775.6" font-size="20.5" font-weight="bold" text-anchor="end">100</text>
<line x1="1152" y1="696.5" x2="1161.0" y2="696.5" stroke="#000" stroke-width="2.9"/>
<text x="1149.6" y="703.7" font-size="20.5" font-weight="bold" text-anchor="end">150</text>
<line x1="1152" y1="624.7" x2="1161.0" y2="624.7" stroke="#000" stroke-width="2.9"/>
<text x="1149.6" y="631.9" font-size="20.5" font-weight="bold" text-anchor="end">200</text>
<text transform="translate(1072.9,766.0) rotate(-90)" font-size="25.4" font-weight="bold" text-anchor="middle" textLength="370.3" lengthAdjust="spacingAndGlyphs">Time to Terminal PBC Hypoxia</text>
<text transform="translate(1103.0,761.2) rotate(-90)" font-size="25.4" font-weight="bold" text-anchor="middle" textLength="112.9" lengthAdjust="spacingAndGlyphs">(Minutes)</text>
<path d="M1218.2,623.8 V611.0 H1390.5 V623.8" fill="none" stroke="#000" stroke-width="2.6"/>
<path d="M1218.2,668.3 V655.6 H1299.9 V668.3" fill="none" stroke="#000" stroke-width="2.6"/>
<path d="M1308.4,668.3 V655.6 H1390.5 V668.3" fill="none" stroke="#000" stroke-width="2.6"/>
<text x="1304.3" y="610.4" font-size="26.5" font-weight="bold" text-anchor="middle" textLength="46.8" lengthAdjust="spacingAndGlyphs">****</text>
<text x="1259.3" y="654.3" font-size="26.5" font-weight="bold" text-anchor="middle" textLength="11.7" lengthAdjust="spacingAndGlyphs">*</text>
<text x="1349.5" y="654.3" font-size="26.5" font-weight="bold" text-anchor="middle" textLength="46.8" lengthAdjust="spacingAndGlyphs">****</text>
<line x1="1218.4" y1="812.7" x2="1218.4" y2="849.0" stroke="#064d64" stroke-width="3.2"/>
<line x1="1204.0" y1="812.7" x2="1232.8000000000002" y2="812.7" stroke="#064d64" stroke-width="3.2"/>
<line x1="1204.0" y1="849.0" x2="1232.8000000000002" y2="849.0" stroke="#064d64" stroke-width="3.2"/>
<rect x="1190.2" y="829.5" width="56.4" height="17.5" fill="#96b9c3" stroke="#064d64" stroke-width="3.2"/>
<line x1="1190.2" y1="837.8" x2="1246.6000000000001" y2="837.8" stroke="#064d64" stroke-width="3.2"/>
<circle cx="1226.0" cy="811.5" r="6.5" fill="#064d64"/>
<circle cx="1210.5" cy="821.7" r="6.5" fill="#064d64"/>
<circle cx="1233.2" cy="827.7" r="6.5" fill="#064d64"/>
<circle cx="1224.2" cy="831.2" r="6.5" fill="#064d64"/>
<circle cx="1201.5" cy="835.4" r="6.5" fill="#064d64"/>
<circle cx="1235.0" cy="842.6" r="6.5" fill="#064d64"/>
<circle cx="1195.5" cy="848.6" r="6.5" fill="#064d64"/>
<circle cx="1211.1" cy="848.6" r="6.5" fill="#064d64"/>
<circle cx="1226.0" cy="849.8" r="6.5" fill="#064d64"/>
<circle cx="1241.0" cy="848.6" r="6.5" fill="#064d64"/>
<line x1="1304.6" y1="856.3" x2="1304.6" y2="888.6" stroke="#a00000" stroke-width="3.2"/>
<line x1="1290.1999999999998" y1="856.3" x2="1319.0" y2="856.3" stroke="#a00000" stroke-width="3.2"/>
<line x1="1290.1999999999998" y1="888.6" x2="1319.0" y2="888.6" stroke="#a00000" stroke-width="3.2"/>
<rect x="1276.1999999999998" y="861.7" width="56.8" height="22.699999999999932" fill="#d48b8b" stroke="#a00000" stroke-width="3.2"/>
<line x1="1276.1999999999998" y1="871.3" x2="1333.0" y2="871.3" stroke="#a00000" stroke-width="3.2"/>
<circle cx="1304.3" cy="856.3" r="6.5" fill="#a00000"/>
<circle cx="1315.0" cy="856.3" r="6.5" fill="#a00000"/>
<circle cx="1327.0" cy="859.3" r="6.5" fill="#a00000"/>
<circle cx="1293.0" cy="868.3" r="6.5" fill="#a00000"/>
<circle cx="1304.3" cy="869.5" r="6.5" fill="#a00000"/>
<circle cx="1315.0" cy="869.5" r="6.5" fill="#a00000"/>
<circle cx="1293.0" cy="882.0" r="6.5" fill="#a00000"/>
<circle cx="1282.2" cy="888.0" r="6.5" fill="#a00000"/>
<circle cx="1304.3" cy="886.8" r="6.5" fill="#a00000"/>
<circle cx="1315.0" cy="885.6" r="6.5" fill="#a00000"/>
<circle cx="1327.0" cy="889.8" r="6.5" fill="#a00000"/>
<line x1="1390.6" y1="679.4" x2="1390.6" y2="843.1" stroke="#005a00" stroke-width="3.2"/>
<line x1="1376.1999999999998" y1="679.4" x2="1405.0" y2="679.4" stroke="#005a00" stroke-width="3.2"/>
<line x1="1376.1999999999998" y1="843.1" x2="1405.0" y2="843.1" stroke="#005a00" stroke-width="3.2"/>
<rect x="1363.1999999999998" y="739.2" width="54.8" height="73.69999999999993" fill="#8db88e" stroke="#005a00" stroke-width="3.2"/>
<line x1="1363.1999999999998" y1="754.1" x2="1418.0" y2="754.1" stroke="#005a00" stroke-width="3.2"/>
<circle cx="1390.5" cy="679.4" r="6.5" fill="#005a00"/>
<circle cx="1367.3" cy="730.3" r="6.5" fill="#005a00"/>
<circle cx="1390.5" cy="739.8" r="6.5" fill="#005a00"/>
<circle cx="1411.8" cy="738.2" r="6.5" fill="#005a00"/>
<circle cx="1367.3" cy="747.7" r="6.5" fill="#005a00"/>
<circle cx="1390.5" cy="754.1" r="6.5" fill="#005a00"/>
<circle cx="1390.5" cy="766.8" r="6.5" fill="#005a00"/>
<circle cx="1390.5" cy="798.6" r="6.5" fill="#005a00"/>
<circle cx="1411.8" cy="814.5" r="6.5" fill="#005a00"/>
<circle cx="1390.5" cy="821.8" r="6.5" fill="#005a00"/>
<circle cx="1390.5" cy="843.1" r="6.5" fill="#005a00"/>
<line x1="1161.0" y1="997.1" x2="1161.0" y2="1286.8" stroke="#000" stroke-width="3.2"/>
<line x1="1152" y1="1285.3" x2="1161.0" y2="1285.3" stroke="#000" stroke-width="2.9"/>
<text x="1149.6" y="1292.5" font-size="20.5" font-weight="bold" text-anchor="end">0</text>
<line x1="1152" y1="1213.6" x2="1161.0" y2="1213.6" stroke="#000" stroke-width="2.9"/>
<text x="1149.6" y="1220.8" font-size="20.5" font-weight="bold" text-anchor="end">50</text>
<line x1="1152" y1="1142.0" x2="1161.0" y2="1142.0" stroke="#000" stroke-width="2.9"/>
<text x="1149.6" y="1149.2" font-size="20.5" font-weight="bold" text-anchor="end">100</text>
<line x1="1152" y1="1070.3" x2="1161.0" y2="1070.3" stroke="#000" stroke-width="2.9"/>
<text x="1149.6" y="1077.5" font-size="20.5" font-weight="bold" text-anchor="end">150</text>
<line x1="1152" y1="998.6" x2="1161.0" y2="998.6" stroke="#000" stroke-width="2.9"/>
<text x="1149.6" y="1005.8" font-size="20.5" font-weight="bold" text-anchor="end">200</text>
<text transform="translate(1072.9,1140.0) rotate(-90)" font-size="25.4" font-weight="bold" text-anchor="middle" textLength="284.5" lengthAdjust="spacingAndGlyphs">Time to Terminal Apnea</text>
<text transform="translate(1103.0,1139.2) rotate(-90)" font-size="25.4" font-weight="bold" text-anchor="middle" textLength="111.3" lengthAdjust="spacingAndGlyphs">(Minutes)</text>
<path d="M1218.2,993.5 V981.8 H1390.5 V993.5" fill="none" stroke="#000" stroke-width="2.6"/>
<path d="M1218.2,1037.4 V1026.3 H1299.9 V1037.4" fill="none" stroke="#000" stroke-width="2.6"/>
<path d="M1308.4,1037.4 V1026.3 H1390.5 V1037.4" fill="none" stroke="#000" stroke-width="2.6"/>
<text x="1304.3" y="981.2" font-size="26.5" font-weight="bold" text-anchor="middle" textLength="46.8" lengthAdjust="spacingAndGlyphs">****</text>
<text x="1259.3" y="1025.0" font-size="26.5" font-weight="bold" text-anchor="middle" textLength="11.7" lengthAdjust="spacingAndGlyphs">*</text>
<text x="1349.5" y="1025.0" font-size="26.5" font-weight="bold" text-anchor="middle" textLength="46.8" lengthAdjust="spacingAndGlyphs">****</text>
<line x1="1218.4" y1="1184.6" x2="1218.4" y2="1221.0" stroke="#064d64" stroke-width="3.2"/>
<line x1="1204.0" y1="1184.6" x2="1232.8000000000002" y2="1184.6" stroke="#064d64" stroke-width="3.2"/>
<line x1="1204.0" y1="1221.0" x2="1232.8000000000002" y2="1221.0" stroke="#064d64" stroke-width="3.2"/>
<rect x="1190.2" y="1202.7" width="56.4" height="15.899999999999864" fill="#96b9c3" stroke="#064d64" stroke-width="3.2"/>
<line x1="1190.2" y1="1210.0" x2="1246.6000000000001" y2="1210.0" stroke="#064d64" stroke-width="3.2"/>
<circle cx="1214.1" cy="1184.6" r="6.5" fill="#064d64"/>
<circle cx="1205.2" cy="1194.8" r="6.5" fill="#064d64"/>
<circle cx="1241.8" cy="1202.7" r="6.5" fill="#064d64"/>
<circle cx="1195.7" cy="1207.5" r="6.5" fill="#064d64"/>
<circle cx="1218.0" cy="1210.0" r="6.5" fill="#064d64"/>
<circle cx="1230.0" cy="1208.0" r="6.5" fill="#064d64"/>
<circle cx="1206.0" cy="1212.0" r="6.5" fill="#064d64"/>
<circle cx="1237.0" cy="1213.0" r="6.5" fill="#064d64"/>
<circle cx="1195.7" cy="1220.2" r="6.5" fill="#064d64"/>
<circle cx="1213.2" cy="1221.8" r="6.5" fill="#064d64"/>
<circle cx="1230.6" cy="1221.8" r="6.5" fill="#064d64"/>
<circle cx="1241.8" cy="1218.6" r="6.5" fill="#064d64"/>
<line x1="1304.6" y1="1229.1" x2="1304.6" y2="1262.0" stroke="#a00000" stroke-width="3.2"/>
<line x1="1290.1999999999998" y1="1229.1" x2="1319.0" y2="1229.1" stroke="#a00000" stroke-width="3.2"/>
<line x1="1290.1999999999998" y1="1262.0" x2="1319.0" y2="1262.0" stroke="#a00000" stroke-width="3.2"/>
<rect x="1276.1999999999998" y="1232.9" width="56.8" height="25.399999999999864" fill="#d48b8b" stroke="#a00000" stroke-width="3.2"/>
<line x1="1276.1999999999998" y1="1245.0" x2="1333.0" y2="1245.0" stroke="#a00000" stroke-width="3.2"/>
<circle cx="1305.3" cy="1229.1" r="6.5" fill="#a00000"/>
<circle cx="1316.5" cy="1229.1" r="6.5" fill="#a00000"/>
<circle cx="1327.6" cy="1232.9" r="6.5" fill="#a00000"/>
<circle cx="1294.2" cy="1240.8" r="6.5" fill="#a00000"/>
<circle cx="1314.9" cy="1240.8" r="6.5" fill="#a00000"/>
<circle cx="1283.1" cy="1259.9" r="6.5" fill="#a00000"/>
<circle cx="1294.2" cy="1253.6" r="6.5" fill="#a00000"/>
<circle cx="1305.3" cy="1259.9" r="6.5" fill="#a00000"/>
<circle cx="1316.5" cy="1256.7" r="6.5" fill="#a00000"/>
<circle cx="1327.6" cy="1263.1" r="6.5" fill="#a00000"/>
<line x1="1390.6" y1="1050.1" x2="1390.6" y2="1211.3" stroke="#005a00" stroke-width="3.2"/>
<line x1="1376.1999999999998" y1="1050.1" x2="1405.0" y2="1050.1" stroke="#005a00" stroke-width="3.2"/>
<line x1="1376.1999999999998" y1="1211.3" x2="1405.0" y2="1211.3" stroke="#005a00" stroke-width="3.2"/>
<rect x="1363.1999999999998" y="1112.1" width="54.8" height="70.90000000000009" fill="#8db88e" stroke="#005a00" stroke-width="3.2"/>
<line x1="1363.1999999999998" y1="1116.9" x2="1418.0" y2="1116.9" stroke="#005a00" stroke-width="3.2"/>
<circle cx="1390.5" cy="1050.1" r="6.5" fill="#005a00"/>
<circle cx="1367.3" cy="1101.9" r="6.5" fill="#005a00"/>
<circle cx="1383.2" cy="1112.1" r="6.5" fill="#005a00"/>
<circle cx="1399.1" cy="1110.5" r="6.5" fill="#005a00"/>
<circle cx="1368.9" cy="1117.5" r="6.5" fill="#005a00"/>
<circle cx="1411.8" cy="1117.5" r="6.5" fill="#005a00"/>
<circle cx="1390.5" cy="1137.5" r="6.5" fill="#005a00"/>
<circle cx="1399.1" cy="1172.5" r="6.5" fill="#005a00"/>
<circle cx="1383.2" cy="1184.3" r="6.5" fill="#005a00"/>
<circle cx="1399.1" cy="1192.2" r="6.5" fill="#005a00"/>
<circle cx="1390.5" cy="1211.3" r="6.5" fill="#005a00"/>
<line x1="1161.0" y1="1405.9" x2="1161.0" y2="1695.0" stroke="#000" stroke-width="3.2"/>
<line x1="1152" y1="1693.5" x2="1161.0" y2="1693.5" stroke="#000" stroke-width="2.9"/>
<text x="1149.6" y="1700.7" font-size="20.5" font-weight="bold" text-anchor="end">0</text>
<line x1="1152" y1="1622.0" x2="1161.0" y2="1622.0" stroke="#000" stroke-width="2.9"/>
<text x="1149.6" y="1629.2" font-size="20.5" font-weight="bold" text-anchor="end">50</text>
<line x1="1152" y1="1550.5" x2="1161.0" y2="1550.5" stroke="#000" stroke-width="2.9"/>
<text x="1149.6" y="1557.7" font-size="20.5" font-weight="bold" text-anchor="end">100</text>
<line x1="1152" y1="1478.9" x2="1161.0" y2="1478.9" stroke="#000" stroke-width="2.9"/>
<text x="1149.6" y="1486.1" font-size="20.5" font-weight="bold" text-anchor="end">150</text>
<line x1="1152" y1="1407.4" x2="1161.0" y2="1407.4" stroke="#000" stroke-width="2.9"/>
<text x="1149.6" y="1414.6" font-size="20.5" font-weight="bold" text-anchor="end">200</text>
<text transform="translate(1072.9,1547.4) rotate(-90)" font-size="25.4" font-weight="bold" text-anchor="middle" textLength="297.2" lengthAdjust="spacingAndGlyphs">Time to Terminal Asystole</text>
<text transform="translate(1103.0,1547.1) rotate(-90)" font-size="25.4" font-weight="bold" text-anchor="middle" textLength="110.2" lengthAdjust="spacingAndGlyphs">(Minutes)</text>
<path d="M1218.2,1392.4 V1380.4 H1390.5 V1392.4" fill="none" stroke="#000" stroke-width="2.6"/>
<path d="M1218.2,1436.3 V1424.9 H1299.9 V1436.3" fill="none" stroke="#000" stroke-width="2.6"/>
<path d="M1308.4,1436.3 V1424.9 H1390.5 V1436.3" fill="none" stroke="#000" stroke-width="2.6"/>
<text x="1304.3" y="1379.8" font-size="26.5" font-weight="bold" text-anchor="middle" textLength="46.8" lengthAdjust="spacingAndGlyphs">****</text>
<text x="1259.3" y="1423.6" font-size="26.5" font-weight="bold" text-anchor="middle" textLength="11.7" lengthAdjust="spacingAndGlyphs">*</text>
<text x="1349.5" y="1423.6" font-size="26.5" font-weight="bold" text-anchor="middle" textLength="46.8" lengthAdjust="spacingAndGlyphs">****</text>
<line x1="1218.4" y1="1584.8" x2="1218.4" y2="1622.0" stroke="#064d64" stroke-width="3.2"/>
<line x1="1204.0" y1="1584.8" x2="1232.8000000000002" y2="1584.8" stroke="#064d64" stroke-width="3.2"/>
<line x1="1204.0" y1="1622.0" x2="1232.8000000000002" y2="1622.0" stroke="#064d64" stroke-width="3.2"/>
<rect x="1190.2" y="1603.2" width="56.4" height="13.299999999999955" fill="#96b9c3" stroke="#064d64" stroke-width="3.2"/>
<line x1="1190.2" y1="1608.0" x2="1246.6000000000001" y2="1608.0" stroke="#064d64" stroke-width="3.2"/>
<circle cx="1214.1" cy="1584.1" r="6.5" fill="#064d64"/>
<circle cx="1204.6" cy="1593.3" r="6.5" fill="#064d64"/>
<circle cx="1195.7" cy="1603.2" r="6.5" fill="#064d64"/>
<circle cx="1213.2" cy="1604.8" r="6.5" fill="#064d64"/>
<circle cx="1240.8" cy="1602.2" r="6.5" fill="#064d64"/>
<circle cx="1226.0" cy="1606.0" r="6.5" fill="#064d64"/>
<circle cx="1205.2" cy="1613.4" r="6.5" fill="#064d64"/>
<circle cx="1230.0" cy="1614.0" r="6.5" fill="#064d64"/>
<circle cx="1195.7" cy="1622.3" r="6.5" fill="#064d64"/>
<circle cx="1213.2" cy="1622.9" r="6.5" fill="#064d64"/>
<circle cx="1231.3" cy="1624.5" r="6.5" fill="#064d64"/>
<circle cx="1240.8" cy="1618.1" r="6.5" fill="#064d64"/>
<line x1="1304.6" y1="1628.6" x2="1304.6" y2="1664.9" stroke="#a00000" stroke-width="3.2"/>
<line x1="1290.1999999999998" y1="1628.6" x2="1319.0" y2="1628.6" stroke="#a00000" stroke-width="3.2"/>
<line x1="1290.1999999999998" y1="1664.9" x2="1319.0" y2="1664.9" stroke="#a00000" stroke-width="3.2"/>
<rect x="1276.1999999999998" y="1630.8" width="56.8" height="27.100000000000136" fill="#d48b8b" stroke="#a00000" stroke-width="3.2"/>
<line x1="1276.1999999999998" y1="1645.0" x2="1333.0" y2="1645.0" stroke="#a00000" stroke-width="3.2"/>
<circle cx="1314.9" cy="1628.6" r="6.5" fill="#a00000"/>
<circle cx="1283.1" cy="1634.0" r="6.5" fill="#a00000"/>
<circle cx="1303.8" cy="1637.2" r="6.5" fill="#a00000"/>
<circle cx="1326.0" cy="1639.4" r="6.5" fill="#a00000"/>
<circle cx="1292.6" cy="1647.7" r="6.5" fill="#a00000"/>
<circle cx="1314.9" cy="1643.6" r="6.5" fill="#a00000"/>
<circle cx="1283.1" cy="1661.0" r="6.5" fill="#a00000"/>
<circle cx="1303.8" cy="1661.7" r="6.5" fill="#a00000"/>
<circle cx="1314.9" cy="1655.6" r="6.5" fill="#a00000"/>
<circle cx="1326.0" cy="1664.9" r="6.5" fill="#a00000"/>
<line x1="1390.6" y1="1448.7" x2="1390.6" y2="1615.0" stroke="#005a00" stroke-width="3.2"/>
<line x1="1376.1999999999998" y1="1448.7" x2="1405.0" y2="1448.7" stroke="#005a00" stroke-width="3.2"/>
<line x1="1376.1999999999998" y1="1615.0" x2="1405.0" y2="1615.0" stroke="#005a00" stroke-width="3.2"/>
<rect x="1363.1999999999998" y="1509.4" width="54.8" height="73.79999999999995" fill="#8db88e" stroke="#005a00" stroke-width="3.2"/>
<line x1="1363.1999999999998" y1="1522.8" x2="1418.0" y2="1522.8" stroke="#005a00" stroke-width="3.2"/>
<circle cx="1390.5" cy="1448.7" r="6.5" fill="#005a00"/>
<circle cx="1367.3" cy="1513.2" r="6.5" fill="#005a00"/>
<circle cx="1383.2" cy="1508.5" r="6.5" fill="#005a00"/>
<circle cx="1398.5" cy="1508.5" r="6.5" fill="#005a00"/>
<circle cx="1411.8" cy="1513.2" r="6.5" fill="#005a00"/>
<circle cx="1398.5" cy="1522.8" r="6.5" fill="#005a00"/>
<circle cx="1382.6" cy="1534.5" r="6.5" fill="#005a00"/>
<circle cx="1391.2" cy="1568.2" r="6.5" fill="#005a00"/>
<circle cx="1383.2" cy="1584.8" r="6.5" fill="#005a00"/>
<circle cx="1398.5" cy="1584.8" r="6.5" fill="#005a00"/>
<circle cx="1390.5" cy="1615.0" r="6.5" fill="#005a00"/>
</svg></body></html>
